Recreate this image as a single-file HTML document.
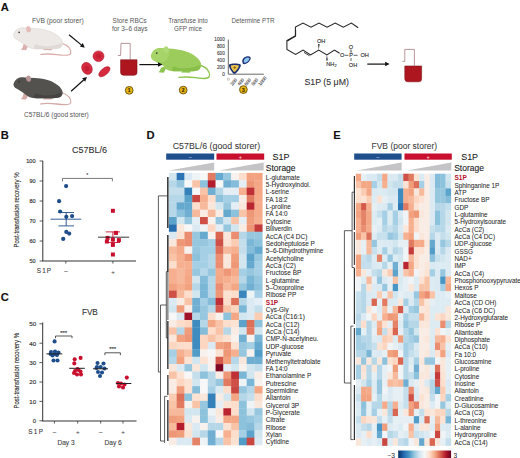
<!DOCTYPE html>
<html><head><meta charset="utf-8"><style>
html,body{margin:0;padding:0;background:#fff;}
body{width:520px;height:458px;overflow:hidden;}
svg{display:block;font-family:"Liberation Sans", sans-serif;}
</style></head><body>
<svg width="520" height="458" viewBox="0 0 520 458">
<rect width="520" height="458" fill="#fff"/>
<text x="0.8" y="10.6" font-size="11.2" fill="#111" text-anchor="start" font-weight="bold" stroke="#111" stroke-width="0.1" >A</text>
<text x="0.8" y="138.6" font-size="11.2" fill="#111" text-anchor="start" font-weight="bold" stroke="#111" stroke-width="0.1" >B</text>
<text x="0.8" y="300.6" font-size="11.2" fill="#111" text-anchor="start" font-weight="bold" stroke="#111" stroke-width="0.1" >C</text>
<text x="146.6" y="138.8" font-size="11.2" fill="#111" text-anchor="start" font-weight="bold" stroke="#111" stroke-width="0.1" >D</text>
<text x="333.2" y="138.8" font-size="11.2" fill="#111" text-anchor="start" font-weight="bold" stroke="#111" stroke-width="0.1" >E</text>
<text x="32" y="22.8" font-size="6.7" fill="#555" text-anchor="start" font-weight="normal"  >FVB (poor storer)</text>
<text x="24" y="116.9" font-size="6.55" fill="#555" text-anchor="start" font-weight="normal"  >C57BL/6 (good storer)</text>
<text x="129.6" y="22.5" font-size="6.45" fill="#555" text-anchor="middle" font-weight="normal"  >Store RBCs</text>
<text x="129.7" y="30.5" font-size="6.45" fill="#555" text-anchor="middle" font-weight="normal"  >for 3–6 days</text>
<text x="188" y="22.5" font-size="6.3" fill="#555" text-anchor="middle" font-weight="normal"  >Transfuse into</text>
<text x="188" y="30.5" font-size="6.3" fill="#555" text-anchor="middle" font-weight="normal"  >GFP mice</text>
<text x="231.4" y="23" font-size="6.27" fill="#555" text-anchor="start" font-weight="normal"  >Determine PTR</text>
<text x="304.4" y="84.9" font-size="8.8" fill="#333" text-anchor="start" font-weight="normal" stroke="#333" stroke-width="0.1" >S1P (5 μM)</text>
<g transform="translate(13.5,34.6) scale(0.94,1)"><path d="M51,8.5 C57,10.5 61.5,14 61,18.5 C60.5,21.5 54,21 46,20 C40,19.3 34,19.2 29,19.8" fill="none" stroke="#dcb0ac" stroke-width="1.3" stroke-linecap="round"/><path d="M34,10 C33.5,12.5 32.5,14.2 31.5,15.4 L40.5,15.6 C41,14.5 42,13 43,11 Z" fill="#dcb0ac"/><path d="M11,8.5 C10.5,11.5 9.5,13.8 7.8,15.2 L13.4,15.6 C14.2,14 15.2,12.2 16.5,10.5 Z" fill="#dcb0ac"/><path d="M0,0 C1,-3 3,-5.6 6.5,-6.4 C9.5,-7.1 12.5,-6.9 14.5,-6.3 C19,-6.5 24,-6 29,-5.4 C35,-4.6 40,-3 44,-0.8 C48,1.4 51,4 52,7 C53,10 51.5,12.6 49,13.3 C45,14.4 41,14.4 37,14.3 L24,14.3 C19,14.2 15,12.8 12,10 C9,8 5,5.5 2.1,4.1 C0.8,3 -0.2,1.5 0,0 Z" fill="#ece9e7" stroke="#d6d0cc" stroke-width="0.5"/><path d="M24,9.6 C32,12.6 42,12.2 50.5,8.6 C51.5,10.5 51,12.6 49,13.3 C45,14.4 41,14.4 37,14.3 L24,14.3 C21,14 21,11 24,9.6 Z" fill="#e0d9d5"/><ellipse cx="15.6" cy="-5.2" rx="2.6" ry="3.1" fill="#e5bdb8" transform="rotate(-15 15.3 -6.6)"/><circle cx="6" cy="-2.3" r="0.85" fill="#333"/></g>
<g transform="translate(13.5,84.0) scale(0.94,1)"><path d="M51,8.5 C57,10.5 61.5,14 61,18.5 C60.5,21.5 54,21 46,20 C40,19.3 34,19.2 29,19.8" fill="none" stroke="#d4aaa6" stroke-width="1.3" stroke-linecap="round"/><path d="M34,10 C33.5,12.5 32.5,14.2 31.5,15.4 L40.5,15.6 C41,14.5 42,13 43,11 Z" fill="#d4aaa6"/><path d="M11,8.5 C10.5,11.5 9.5,13.8 7.8,15.2 L13.4,15.6 C14.2,14 15.2,12.2 16.5,10.5 Z" fill="#d4aaa6"/><path d="M0,0 C1,-3 3,-5.6 6.5,-6.4 C9.5,-7.1 12.5,-6.9 14.5,-6.3 C19,-6.5 24,-6 29,-5.4 C35,-4.6 40,-3 44,-0.8 C48,1.4 51,4 52,7 C53,10 51.5,12.6 49,13.3 C45,14.4 41,14.4 37,14.3 L24,14.3 C19,14.2 15,12.8 12,10 C9,8 5,5.5 2.1,4.1 C0.8,3 -0.2,1.5 0,0 Z" fill="#54524f" stroke="none" stroke-width="0.5"/><path d="M24,9.6 C32,12.6 42,12.2 50.5,8.6 C51.5,10.5 51,12.6 49,13.3 C45,14.4 41,14.4 37,14.3 L24,14.3 C21,14 21,11 24,9.6 Z" fill="#464442"/><ellipse cx="15.6" cy="-5.2" rx="2.6" ry="3.1" fill="#b89696" transform="rotate(-15 15.3 -6.6)"/><circle cx="6" cy="-2.3" r="0.85" fill="#333"/></g>
<g transform="translate(151.0,55.6) scale(0.96,1.1)"><path d="M51,8.5 C57,10.5 61.5,14 61,18.5 C60.5,21.5 54,21 46,20 C40,19.3 34,19.2 29,19.8" fill="none" stroke="#8ec450" stroke-width="1.3" stroke-linecap="round"/><path d="M34,10 C33.5,12.5 32.5,14.2 31.5,15.4 L40.5,15.6 C41,14.5 42,13 43,11 Z" fill="#8ec450"/><path d="M11,8.5 C10.5,11.5 9.5,13.8 7.8,15.2 L13.4,15.6 C14.2,14 15.2,12.2 16.5,10.5 Z" fill="#8ec450"/><path d="M0,0 C1,-3 3,-5.6 6.5,-6.4 C9.5,-7.1 12.5,-6.9 14.5,-6.3 C19,-6.5 24,-6 29,-5.4 C35,-4.6 40,-3 44,-0.8 C48,1.4 51,4 52,7 C53,10 51.5,12.6 49,13.3 C45,14.4 41,14.4 37,14.3 L24,14.3 C19,14.2 15,12.8 12,10 C9,8 5,5.5 2.1,4.1 C0.8,3 -0.2,1.5 0,0 Z" fill="#9ccc5c" stroke="none" stroke-width="0.5"/><path d="M24,9.6 C32,12.6 42,12.2 50.5,8.6 C51.5,10.5 51,12.6 49,13.3 C45,14.4 41,14.4 37,14.3 L24,14.3 C21,14 21,11 24,9.6 Z" fill="#88bf48"/><path d="M0,0 C1,-3 3,-5.6 6.5,-6.4 C10,-7.1 15,-6.9 18,-5 C20,-2.5 19,1.5 16,4.5 C13,6.5 10,7 8,6.5 C5.5,5.5 3,4.8 2.1,4.1 C0.8,3 -0.2,1.5 0,0 Z" fill="#a6d468"/><ellipse cx="15.6" cy="-5.2" rx="2.6" ry="3.1" fill="#b0da78" transform="rotate(-15 15.3 -6.6)"/><circle cx="6" cy="-2.3" r="0.85" fill="#333"/><path d="M6.8,6.4 L13.8,9.6 L9.6,11.6 Z" fill="#fff"/></g>
<line x1="69" y1="34.7" x2="81.32504456047168" y2="44.84085944848936" stroke="#111" stroke-width="1.2"/>
<path d="M84.8,47.7 L79.89547428471636,46.57833716825352 L82.754614836227,43.1033817287252 Z" fill="#111"/>
<line x1="71.1" y1="91.3" x2="83.6541301966648" y2="80.00917850237064" stroke="#111" stroke-width="1.2"/>
<path d="M87,77 L85.15871944785012,81.68211340403825 L82.14954094547947,78.33624360070304 Z" fill="#111"/>
<line x1="139.4" y1="64.6" x2="158.0" y2="64.6" stroke="#111" stroke-width="1.2"/>
<path d="M162.5,64.6 L158.0,66.85 L158.0,62.349999999999994 Z" fill="#111"/>
<line x1="367.3" y1="64.1" x2="385.1" y2="64.1" stroke="#111" stroke-width="1.2"/>
<path d="M389.6,64.1 L385.1,66.35 L385.1,61.849999999999994 Z" fill="#111"/>
<g fill="#d62a40" stroke="#b01a2e" stroke-width="0.6"><ellipse cx="98.5" cy="56.2" rx="5.5" ry="5.3"/><ellipse cx="87" cy="68.4" rx="5" ry="6.2" transform="rotate(-28 87 68.4)"/><ellipse cx="104.4" cy="71.7" rx="6.8" ry="3.3" transform="rotate(-40 104.4 71.7)"/></g>
<g fill="#b8182a" opacity="0.6"><ellipse cx="98.5" cy="56.2" rx="2.6" ry="2.4"/><ellipse cx="86.9" cy="68.5" rx="2.4" ry="2.8"/></g>
<path d="M117.9,55.5 L120.6,55.5 L121,43.4 L130.2,43.4 L130.2,59.6" fill="none" stroke="#b08a90" stroke-width="0.9"/>
<path d="M120.6,59.8 L137,59.8 L137,72.3 Q137,75.3 134,75.3 L123.6,75.3 Q120.6,75.3 120.6,72.3 Z" fill="#ae161f" stroke="#7e1016" stroke-width="0.6"/>
<path d="M402.4,61.4 L404.8,61.4 L404.8,49.4 L414.4,49.4 L414.4,65.6" fill="none" stroke="#b08a90" stroke-width="0.9"/>
<path d="M404.8,66 L421.6,66 L421.6,78.8 Q421.6,81.8 418.6,81.8 L407.8,81.8 Q404.8,81.8 404.8,78.8 Z" fill="#ae161f" stroke="#7e1016" stroke-width="0.6"/>
<circle cx="129.2" cy="90.3" r="3.9" fill="#e6b417" stroke="#5a4400" stroke-width="0.8"/>
<text x="129.2" y="92.2" font-size="5" fill="#3a2a00" text-anchor="middle" font-weight="bold" stroke="#3a2a00" stroke-width="0.1" >1</text>
<circle cx="183.2" cy="90.1" r="3.9" fill="#e6b417" stroke="#5a4400" stroke-width="0.8"/>
<text x="183.2" y="92.0" font-size="5" fill="#3a2a00" text-anchor="middle" font-weight="bold" stroke="#3a2a00" stroke-width="0.1" >2</text>
<circle cx="243.4" cy="89.6" r="3.9" fill="#e6b417" stroke="#5a4400" stroke-width="0.8"/>
<text x="243.4" y="91.5" font-size="5" fill="#3a2a00" text-anchor="middle" font-weight="bold" stroke="#3a2a00" stroke-width="0.1" >3</text>
<line x1="228.3" y1="39.6" x2="228.3" y2="74.2" stroke="#444" stroke-width="0.8"/>
<line x1="228.3" y1="74.2" x2="263.9" y2="74.2" stroke="#444" stroke-width="0.8"/>
<text x="224.8" y="40.8" font-size="4.7" fill="#444" text-anchor="end" font-weight="normal" stroke="#444" stroke-width="0.12" >1000</text>
<text x="224.8" y="47.75" font-size="4.7" fill="#444" text-anchor="end" font-weight="normal" stroke="#444" stroke-width="0.12" >800</text>
<text x="224.8" y="54.699999999999996" font-size="4.7" fill="#444" text-anchor="end" font-weight="normal" stroke="#444" stroke-width="0.12" >600</text>
<text x="224.8" y="61.65" font-size="4.7" fill="#444" text-anchor="end" font-weight="normal" stroke="#444" stroke-width="0.12" >400</text>
<text x="224.8" y="68.6" font-size="4.7" fill="#444" text-anchor="end" font-weight="normal" stroke="#444" stroke-width="0.12" >200</text>
<text x="224.8" y="75.55" font-size="4.7" fill="#444" text-anchor="end" font-weight="normal" stroke="#444" stroke-width="0.12" >0</text>
<path d="M229.2,64.6 C231,63.2 238,63.2 240.6,64.4 C241.6,65.6 239.4,69.4 236.6,72.6 C235.2,74.4 233.6,74.4 232.4,72.6 C230,69.4 228.2,65.8 229.2,64.6 Z" fill="#1c2f74"/>
<path d="M230.9,65.6 C232.5,64.8 237,64.8 238.8,65.6 C239.2,66.6 237.6,69.2 235.6,71.2 C234.8,72.0 234,72.0 233.4,71.2 C231.5,69.2 230.4,66.6 230.9,65.6 Z" fill="#e7c54a"/>
<circle cx="234.7" cy="67.6" r="1.1" fill="#8a4a10"/>
<path d="M242.4,62.2 C241.6,59.4 244.2,56.6 247.4,56.3 C250.2,56 251.4,57.6 250.4,59.6 C249.4,61.8 246.6,64.2 244.2,64.2 C243.2,64.2 242.6,63.4 242.4,62.2 Z" fill="#1c2f74"/>
<path d="M243.8,61.8 C243.4,59.8 245.2,57.8 247.4,57.6 C249.2,57.5 249.8,58.4 249.2,59.6 C248.4,61.2 246.4,62.8 245,62.8 C244.4,62.8 243.9,62.4 243.8,61.8 Z" fill="#8cc6ee"/>
<text x="0" y="0" font-size="4.6" fill="#555" stroke="#555" stroke-width="0.12" transform="translate(232.6,86) rotate(-52)">200</text>
<text x="0" y="0" font-size="4.6" fill="#555" stroke="#555" stroke-width="0.12" transform="translate(239.6,86) rotate(-52)">400</text>
<text x="0" y="0" font-size="4.6" fill="#555" stroke="#555" stroke-width="0.12" transform="translate(246.6,86) rotate(-52)">600</text>
<text x="0" y="0" font-size="4.6" fill="#555" stroke="#555" stroke-width="0.12" transform="translate(253.6,86) rotate(-52)">800</text>
<text x="0" y="0" font-size="4.6" fill="#555" stroke="#555" stroke-width="0.12" transform="translate(260.6,86) rotate(-52)">1000</text>
<circle cx="228.4" cy="79.2" r="1.1" fill="none" stroke="#a98" stroke-width="0.6"/>
<polyline points="287.3,41 295.4,36.3 295.4,27.1 303,23.1 311,27.1 319,23.1 327.1,27.1 335.2,23.1 343.3,27.1 351.4,23.1 358.2,27.7" fill="none" stroke="#222" stroke-width="1.05"/>
<polyline points="295.6,30 295.6,35.6 286.9,40.6 286.9,49.4 295.6,54.4 303.1,50 310.6,55 318.75,50 326.9,55 334.4,50 339.6,53.2" fill="none" stroke="#222" stroke-width="1.05"/>
<line x1="304" y1="52.4" x2="309.6" y2="55.8" stroke="#222" stroke-width="0.9"/>
<path d="M318.75,50 L318.1,44 L319.6,44 Z" fill="#222"/>
<path d="M326.9,55 L326.2,60.5 L327.8,60.5 Z" fill="#222"/>
<text x="321.2" y="43.2" font-size="5.6" fill="#222" text-anchor="middle" font-weight="normal" stroke="#222" stroke-width="0.1" >OH</text>
<text x="326.3" y="65.6" font-size="5.6" fill="#222" text-anchor="start" font-weight="normal" stroke="#222" stroke-width="0.1" >NH</text>
<text x="334.6" y="67" font-size="3.8" fill="#222" text-anchor="start" font-weight="normal" stroke="#222" stroke-width="0.1" >2</text>
<text x="342.2" y="57.3" font-size="5.6" fill="#222" text-anchor="middle" font-weight="normal" stroke="#222" stroke-width="0.1" >O</text>
<line x1="344.6" y1="55.3" x2="348.4" y2="55.3" stroke="#222" stroke-width="0.7"/>
<text x="351" y="57.3" font-size="5.6" fill="#222" text-anchor="middle" font-weight="normal" stroke="#222" stroke-width="0.1" >P</text>
<line x1="353.6" y1="55.3" x2="357.6" y2="55.3" stroke="#222" stroke-width="0.7"/>
<text x="364.6" y="57.3" font-size="5.6" fill="#222" text-anchor="middle" font-weight="normal" stroke="#222" stroke-width="0.1" >OH</text>
<text x="351" y="48.6" font-size="5.6" fill="#222" text-anchor="middle" font-weight="normal" stroke="#222" stroke-width="0.1" >O</text>
<line x1="350.4" y1="49.6" x2="350.4" y2="52.6" stroke="#222" stroke-width="0.5"/><line x1="351.6" y1="49.6" x2="351.6" y2="52.6" stroke="#222" stroke-width="0.5"/>
<line x1="351" y1="58" x2="351" y2="61" stroke="#222" stroke-width="0.7"/>
<text x="353" y="66.6" font-size="5.6" fill="#222" text-anchor="middle" font-weight="normal" stroke="#222" stroke-width="0.1" >OH</text>
<line x1="42.8" y1="160.8" x2="42.8" y2="261" stroke="#333" stroke-width="1"/>
<line x1="42.3" y1="261" x2="136" y2="261" stroke="#333" stroke-width="1"/>
<line x1="39.6" y1="161.0" x2="42.8" y2="161.0" stroke="#333" stroke-width="0.8"/>
<text x="35.5" y="163.3" font-size="5.5" fill="#333" text-anchor="end" font-weight="normal" stroke="#333" stroke-width="0.15" textLength="9.3" lengthAdjust="spacingAndGlyphs">100</text>
<line x1="39.6" y1="181.0" x2="42.8" y2="181.0" stroke="#333" stroke-width="0.8"/>
<text x="35.5" y="183.3" font-size="5.5" fill="#333" text-anchor="end" font-weight="normal" stroke="#333" stroke-width="0.15" textLength="6.1000000000000005" lengthAdjust="spacingAndGlyphs">90</text>
<line x1="39.6" y1="201.0" x2="42.8" y2="201.0" stroke="#333" stroke-width="0.8"/>
<text x="35.5" y="203.3" font-size="5.5" fill="#333" text-anchor="end" font-weight="normal" stroke="#333" stroke-width="0.15" textLength="6.1000000000000005" lengthAdjust="spacingAndGlyphs">80</text>
<line x1="39.6" y1="221.0" x2="42.8" y2="221.0" stroke="#333" stroke-width="0.8"/>
<text x="35.5" y="223.3" font-size="5.5" fill="#333" text-anchor="end" font-weight="normal" stroke="#333" stroke-width="0.15" textLength="6.1000000000000005" lengthAdjust="spacingAndGlyphs">70</text>
<line x1="39.6" y1="241.0" x2="42.8" y2="241.0" stroke="#333" stroke-width="0.8"/>
<text x="35.5" y="243.3" font-size="5.5" fill="#333" text-anchor="end" font-weight="normal" stroke="#333" stroke-width="0.15" textLength="6.1000000000000005" lengthAdjust="spacingAndGlyphs">60</text>
<line x1="39.6" y1="261.0" x2="42.8" y2="261.0" stroke="#333" stroke-width="0.8"/>
<text x="35.5" y="263.3" font-size="5.5" fill="#333" text-anchor="end" font-weight="normal" stroke="#333" stroke-width="0.15" textLength="6.1000000000000005" lengthAdjust="spacingAndGlyphs">50</text>
<text x="72.1" y="152.9" font-size="9.0" fill="#333" text-anchor="start" font-weight="normal" stroke="#333" stroke-width="0.1" >C57BL/6</text>
<text x="0" y="0" font-size="7.5" fill="#2a2a2a" transform="translate(19.1,209.9) rotate(-90)" text-anchor="middle" stroke="#2a2a2a" stroke-width="0.12" textLength="75" lengthAdjust="spacingAndGlyphs">Post-transfusion recovery %</text>
<line x1="65.8" y1="261" x2="65.8" y2="263.6" stroke="#333" stroke-width="0.8"/>
<line x1="112.9" y1="261" x2="112.9" y2="263.6" stroke="#333" stroke-width="0.8"/>
<text x="36.8" y="273.2" font-size="6.4" fill="#3a3a3a" text-anchor="start" font-weight="normal" stroke="#3a3a3a" stroke-width="0.1" letter-spacing="1.1">S1P</text>
<text x="66" y="273" font-size="6.2" fill="#444" text-anchor="middle" font-weight="normal" stroke="#444" stroke-width="0.1" >–</text>
<text x="113" y="273.5" font-size="6.2" fill="#444" text-anchor="middle" font-weight="normal" stroke="#444" stroke-width="0.1" >+</text>
<path d="M62.5,181.3 L62.5,178.4 L112.4,178.4 L112.4,181.3" fill="none" stroke="#555" stroke-width="0.8"/>
<text x="87.2" y="176.6" font-size="5" fill="#444" text-anchor="middle" font-weight="normal" stroke="#444" stroke-width="0.1" >*</text>
<circle cx="66.1" cy="186.1" r="2.1" fill="#1f4e8c"/>
<circle cx="59.1" cy="201.2" r="2.1" fill="#1f4e8c"/>
<circle cx="60.1" cy="211.5" r="2.1" fill="#1f4e8c"/>
<circle cx="66.3" cy="216.8" r="2.1" fill="#1f4e8c"/>
<circle cx="72.1" cy="216.1" r="2.1" fill="#1f4e8c"/>
<circle cx="66.3" cy="231.9" r="2.1" fill="#1f4e8c"/>
<circle cx="69.2" cy="233.6" r="2.1" fill="#1f4e8c"/>
<circle cx="63.2" cy="238.9" r="2.1" fill="#1f4e8c"/>
<rect x="110.9" y="208.8" width="4" height="4" fill="#c8102e"/>
<rect x="114" y="230.9" width="4" height="4" fill="#c8102e"/>
<rect x="105.6" y="235.9" width="4" height="4" fill="#c8102e"/>
<rect x="110.9" y="237.6" width="4" height="4" fill="#c8102e"/>
<rect x="116.9" y="238.1" width="4" height="4" fill="#c8102e"/>
<rect x="104.9" y="239.5" width="4" height="4" fill="#c8102e"/>
<rect x="110.9" y="242.9" width="4" height="4" fill="#c8102e"/>
<rect x="110.9" y="252.5" width="4" height="4" fill="#c8102e"/>
<g stroke="#1f4e8c" stroke-width="0.9"><line x1="50.5" y1="219.2" x2="81.2" y2="219.2"/><line x1="66.2" y1="212.5" x2="66.2" y2="225.9"/><line x1="58.4" y1="212.5" x2="74" y2="212.5"/><line x1="58.4" y1="225.9" x2="74" y2="225.9"/></g>
<g stroke="#222" stroke-width="0.9"><line x1="98" y1="237.2" x2="129.2" y2="237.2"/></g>
<g stroke="#c8102e" stroke-width="0.9"><line x1="112.9" y1="231.9" x2="112.9" y2="242.5"/><line x1="105.7" y1="231.9" x2="120" y2="231.9"/><line x1="105.7" y1="242.5" x2="120" y2="242.5"/></g>
<line x1="42.7" y1="322.5" x2="42.7" y2="421" stroke="#333" stroke-width="1"/>
<line x1="42.2" y1="421" x2="136.5" y2="421" stroke="#333" stroke-width="1"/>
<line x1="39.4" y1="323.8" x2="42.7" y2="323.8" stroke="#333" stroke-width="0.8"/>
<text x="36.1" y="326.2" font-size="5.5" fill="#333" text-anchor="end" font-weight="normal" stroke="#333" stroke-width="0.15" textLength="6.9" lengthAdjust="spacingAndGlyphs">50</text>
<line x1="39.4" y1="343.20000000000005" x2="42.7" y2="343.20000000000005" stroke="#333" stroke-width="0.8"/>
<text x="36.1" y="345.6" font-size="5.5" fill="#333" text-anchor="end" font-weight="normal" stroke="#333" stroke-width="0.15" textLength="6.9" lengthAdjust="spacingAndGlyphs">40</text>
<line x1="39.4" y1="362.6" x2="42.7" y2="362.6" stroke="#333" stroke-width="0.8"/>
<text x="36.1" y="365.0" font-size="5.5" fill="#333" text-anchor="end" font-weight="normal" stroke="#333" stroke-width="0.15" textLength="6.9" lengthAdjust="spacingAndGlyphs">30</text>
<line x1="39.4" y1="382.0" x2="42.7" y2="382.0" stroke="#333" stroke-width="0.8"/>
<text x="36.1" y="384.4" font-size="5.5" fill="#333" text-anchor="end" font-weight="normal" stroke="#333" stroke-width="0.15" textLength="6.9" lengthAdjust="spacingAndGlyphs">20</text>
<line x1="39.4" y1="401.40000000000003" x2="42.7" y2="401.40000000000003" stroke="#333" stroke-width="0.8"/>
<text x="36.1" y="403.8" font-size="5.5" fill="#333" text-anchor="end" font-weight="normal" stroke="#333" stroke-width="0.15" textLength="6.9" lengthAdjust="spacingAndGlyphs">10</text>
<line x1="39.4" y1="420.8" x2="42.7" y2="420.8" stroke="#333" stroke-width="0.8"/>
<text x="36.1" y="423.2" font-size="5.5" fill="#333" text-anchor="end" font-weight="normal" stroke="#333" stroke-width="0.15" textLength="3.3000000000000003" lengthAdjust="spacingAndGlyphs">0</text>
<text x="81.9" y="314.6" font-size="8.2" fill="#333" text-anchor="start" font-weight="normal" stroke="#333" stroke-width="0.1" >FVB</text>
<text x="0" y="0" font-size="7.5" fill="#2a2a2a" transform="translate(19.1,370.7) rotate(-90)" text-anchor="middle" stroke="#2a2a2a" stroke-width="0.12" textLength="75.8" lengthAdjust="spacingAndGlyphs">Post-transfusion recovery %</text>
<line x1="54.4" y1="421" x2="54.4" y2="423.6" stroke="#333" stroke-width="0.8"/>
<line x1="77.7" y1="421" x2="77.7" y2="423.6" stroke="#333" stroke-width="0.8"/>
<line x1="100.7" y1="421" x2="100.7" y2="423.6" stroke="#333" stroke-width="0.8"/>
<line x1="123" y1="421" x2="123" y2="423.6" stroke="#333" stroke-width="0.8"/>
<text x="28.3" y="433.6" font-size="6.4" fill="#3a3a3a" text-anchor="start" font-weight="normal" stroke="#3a3a3a" stroke-width="0.1" letter-spacing="1.3">S1P</text>
<text x="54.4" y="433.6" font-size="6.2" fill="#444" text-anchor="middle" font-weight="normal" stroke="#444" stroke-width="0.1" >–</text>
<text x="77.7" y="433.6" font-size="6.2" fill="#444" text-anchor="middle" font-weight="normal" stroke="#444" stroke-width="0.1" >+</text>
<text x="100.7" y="433.6" font-size="6.2" fill="#444" text-anchor="middle" font-weight="normal" stroke="#444" stroke-width="0.1" >–</text>
<text x="123" y="433.6" font-size="6.2" fill="#444" text-anchor="middle" font-weight="normal" stroke="#444" stroke-width="0.1" >+</text>
<text x="66" y="445.2" font-size="6.6" fill="#444" text-anchor="middle" font-weight="normal" stroke="#444" stroke-width="0.1" >Day 3</text>
<text x="113.1" y="445.2" font-size="6.6" fill="#444" text-anchor="middle" font-weight="normal" stroke="#444" stroke-width="0.1" >Day 6</text>
<path d="M55.5,338.2 L55.5,336 L72,336 L72,338.2" fill="none" stroke="#444" stroke-width="0.9"/>
<path d="M104.9,355.2 L104.9,352.8 L120.4,352.8 L120.4,355.2" fill="none" stroke="#444" stroke-width="0.9"/>
<text x="63.7" y="334.6" font-size="6" fill="#333" text-anchor="middle" font-weight="normal" stroke="#333" stroke-width="0.1" >***</text>
<text x="112.7" y="351.4" font-size="6" fill="#333" text-anchor="middle" font-weight="normal" stroke="#333" stroke-width="0.1" >***</text>
<circle cx="54.6" cy="341.4" r="2.05" fill="#1f4e8c"/>
<circle cx="51" cy="352" r="2.05" fill="#1f4e8c"/>
<circle cx="55" cy="351.5" r="2.05" fill="#1f4e8c"/>
<circle cx="58.5" cy="352.5" r="2.05" fill="#1f4e8c"/>
<circle cx="52.5" cy="355.5" r="2.05" fill="#1f4e8c"/>
<circle cx="57" cy="355" r="2.05" fill="#1f4e8c"/>
<circle cx="54.6" cy="354" r="2.05" fill="#1f4e8c"/>
<circle cx="53.5" cy="360.5" r="2.05" fill="#1f4e8c"/>
<circle cx="57.5" cy="360.5" r="2.05" fill="#1f4e8c"/>
<circle cx="50.5" cy="354" r="2.05" fill="#1f4e8c"/>
<circle cx="74.7" cy="359.3" r="2.05" fill="#c8102e"/>
<circle cx="80.6" cy="357.9" r="2.05" fill="#c8102e"/>
<circle cx="74.3" cy="363.4" r="2.05" fill="#c8102e"/>
<circle cx="77.5" cy="369" r="2.05" fill="#c8102e"/>
<circle cx="75" cy="371" r="2.05" fill="#c8102e"/>
<circle cx="80.5" cy="371.5" r="2.05" fill="#c8102e"/>
<circle cx="77" cy="374.5" r="2.05" fill="#c8102e"/>
<circle cx="81" cy="374.5" r="2.05" fill="#c8102e"/>
<circle cx="78.5" cy="370" r="2.05" fill="#c8102e"/>
<circle cx="74" cy="373" r="2.05" fill="#c8102e"/>
<circle cx="97.5" cy="363" r="2.05" fill="#1f4e8c"/>
<circle cx="103.5" cy="363.5" r="2.05" fill="#1f4e8c"/>
<circle cx="96.5" cy="368" r="2.05" fill="#1f4e8c"/>
<circle cx="100.7" cy="367" r="2.05" fill="#1f4e8c"/>
<circle cx="104.5" cy="368.5" r="2.05" fill="#1f4e8c"/>
<circle cx="98" cy="372" r="2.05" fill="#1f4e8c"/>
<circle cx="102" cy="372.5" r="2.05" fill="#1f4e8c"/>
<circle cx="100" cy="376" r="2.05" fill="#1f4e8c"/>
<circle cx="97" cy="367" r="2.05" fill="#1f4e8c"/>
<circle cx="126.8" cy="377.6" r="2.05" fill="#c8102e"/>
<circle cx="118" cy="383" r="2.05" fill="#c8102e"/>
<circle cx="121" cy="383.5" r="2.05" fill="#c8102e"/>
<circle cx="124.5" cy="384.5" r="2.05" fill="#c8102e"/>
<circle cx="119" cy="386.5" r="2.05" fill="#c8102e"/>
<circle cx="123" cy="387.5" r="2.05" fill="#c8102e"/>
<line x1="46.4" y1="353.9" x2="62.3" y2="353.9" stroke="#222" stroke-width="1"/>
<line x1="69.2" y1="368.3" x2="84.8" y2="368.3" stroke="#222" stroke-width="1"/>
<line x1="93" y1="368.8" x2="108" y2="368.8" stroke="#222" stroke-width="1"/>
<line x1="115.8" y1="383.5" x2="131.3" y2="383.5" stroke="#222" stroke-width="1"/>
<rect x="168.90" y="172.90" width="8.08" height="7.65" fill="#d2e6f0"/>
<rect x="176.68" y="172.90" width="8.08" height="7.65" fill="#2c74b3"/>
<rect x="184.46" y="172.90" width="8.08" height="7.65" fill="#dbeaf2"/>
<rect x="192.24" y="172.90" width="8.08" height="7.65" fill="#eef3f5"/>
<rect x="200.02" y="172.90" width="8.08" height="7.65" fill="#f7f7f7"/>
<rect x="207.80" y="172.90" width="8.08" height="7.65" fill="#e17a61"/>
<rect x="215.58" y="172.90" width="8.08" height="7.65" fill="#66a9cf"/>
<rect x="223.36" y="172.90" width="8.08" height="7.65" fill="#96c7df"/>
<rect x="231.14" y="172.90" width="8.08" height="7.65" fill="#f8f2ee"/>
<rect x="238.92" y="172.90" width="8.08" height="7.65" fill="#fdddcb"/>
<rect x="246.70" y="172.90" width="8.08" height="7.65" fill="#f3a280"/>
<rect x="254.48" y="172.90" width="8.08" height="7.65" fill="#f3a280"/>
<rect x="168.90" y="180.25" width="8.08" height="7.65" fill="#b5d7e8"/>
<rect x="176.68" y="180.25" width="8.08" height="7.65" fill="#96c7df"/>
<rect x="184.46" y="180.25" width="8.08" height="7.65" fill="#f7f7f7"/>
<rect x="192.24" y="180.25" width="8.08" height="7.65" fill="#f9c3a8"/>
<rect x="200.02" y="180.25" width="8.08" height="7.65" fill="#8dc2dc"/>
<rect x="207.80" y="180.25" width="8.08" height="7.65" fill="#b41b2d"/>
<rect x="215.58" y="180.25" width="8.08" height="7.65" fill="#f7f7f7"/>
<rect x="223.36" y="180.25" width="8.08" height="7.65" fill="#70afd2"/>
<rect x="231.14" y="180.25" width="8.08" height="7.65" fill="#84bcd9"/>
<rect x="238.92" y="180.25" width="8.08" height="7.65" fill="#e5eef4"/>
<rect x="246.70" y="180.25" width="8.08" height="7.65" fill="#ee9777"/>
<rect x="254.48" y="180.25" width="8.08" height="7.65" fill="#f4a785"/>
<rect x="168.90" y="187.61" width="8.08" height="7.65" fill="#c4deec"/>
<rect x="176.68" y="187.61" width="8.08" height="7.65" fill="#c4deec"/>
<rect x="184.46" y="187.61" width="8.08" height="7.65" fill="#3480b9"/>
<rect x="192.24" y="187.61" width="8.08" height="7.65" fill="#f7f7f7"/>
<rect x="200.02" y="187.61" width="8.08" height="7.65" fill="#f9c3a8"/>
<rect x="207.80" y="187.61" width="8.08" height="7.65" fill="#70afd2"/>
<rect x="215.58" y="187.61" width="8.08" height="7.65" fill="#b5d7e8"/>
<rect x="223.36" y="187.61" width="8.08" height="7.65" fill="#e5eef4"/>
<rect x="231.14" y="187.61" width="8.08" height="7.65" fill="#e5eef4"/>
<rect x="238.92" y="187.61" width="8.08" height="7.65" fill="#f6b090"/>
<rect x="246.70" y="187.61" width="8.08" height="7.65" fill="#be3036"/>
<rect x="254.48" y="187.61" width="8.08" height="7.65" fill="#f4a785"/>
<rect x="168.90" y="194.96" width="8.08" height="7.65" fill="#b5d7e8"/>
<rect x="176.68" y="194.96" width="8.08" height="7.65" fill="#b5d7e8"/>
<rect x="184.46" y="194.96" width="8.08" height="7.65" fill="#5ca3cc"/>
<rect x="192.24" y="194.96" width="8.08" height="7.65" fill="#c94641"/>
<rect x="200.02" y="194.96" width="8.08" height="7.65" fill="#f6b090"/>
<rect x="207.80" y="194.96" width="8.08" height="7.65" fill="#fdddcb"/>
<rect x="215.58" y="194.96" width="8.08" height="7.65" fill="#8dc2dc"/>
<rect x="223.36" y="194.96" width="8.08" height="7.65" fill="#a5cfe4"/>
<rect x="231.14" y="194.96" width="8.08" height="7.65" fill="#a5cfe4"/>
<rect x="238.92" y="194.96" width="8.08" height="7.65" fill="#f9ece5"/>
<rect x="246.70" y="194.96" width="8.08" height="7.65" fill="#e17a61"/>
<rect x="254.48" y="194.96" width="8.08" height="7.65" fill="#f5ab8a"/>
<rect x="168.90" y="202.32" width="8.08" height="7.65" fill="#b5d7e8"/>
<rect x="176.68" y="202.32" width="8.08" height="7.65" fill="#66a9cf"/>
<rect x="184.46" y="202.32" width="8.08" height="7.65" fill="#66a9cf"/>
<rect x="192.24" y="202.32" width="8.08" height="7.65" fill="#fdddcb"/>
<rect x="200.02" y="202.32" width="8.08" height="7.65" fill="#f7b99c"/>
<rect x="207.80" y="202.32" width="8.08" height="7.65" fill="#fae7dc"/>
<rect x="215.58" y="202.32" width="8.08" height="7.65" fill="#d2e6f0"/>
<rect x="223.36" y="202.32" width="8.08" height="7.65" fill="#96c7df"/>
<rect x="231.14" y="202.32" width="8.08" height="7.65" fill="#e5eef4"/>
<rect x="238.92" y="202.32" width="8.08" height="7.65" fill="#fae7dc"/>
<rect x="246.70" y="202.32" width="8.08" height="7.65" fill="#b92631"/>
<rect x="254.48" y="202.32" width="8.08" height="7.65" fill="#f5ab8a"/>
<rect x="168.90" y="209.67" width="8.08" height="7.65" fill="#b5d7e8"/>
<rect x="176.68" y="209.67" width="8.08" height="7.65" fill="#8dc2dc"/>
<rect x="184.46" y="209.67" width="8.08" height="7.65" fill="#70afd2"/>
<rect x="192.24" y="209.67" width="8.08" height="7.65" fill="#f7b99c"/>
<rect x="200.02" y="209.67" width="8.08" height="7.65" fill="#f9ece5"/>
<rect x="207.80" y="209.67" width="8.08" height="7.65" fill="#f7b99c"/>
<rect x="215.58" y="209.67" width="8.08" height="7.65" fill="#f9ece5"/>
<rect x="223.36" y="209.67" width="8.08" height="7.65" fill="#66a9cf"/>
<rect x="231.14" y="209.67" width="8.08" height="7.65" fill="#8dc2dc"/>
<rect x="238.92" y="209.67" width="8.08" height="7.65" fill="#f9c3a8"/>
<rect x="246.70" y="209.67" width="8.08" height="7.65" fill="#ee9777"/>
<rect x="254.48" y="209.67" width="8.08" height="7.65" fill="#f5ab8a"/>
<rect x="168.90" y="217.02" width="8.08" height="7.65" fill="#5ca3cc"/>
<rect x="176.68" y="217.02" width="8.08" height="7.65" fill="#d2e6f0"/>
<rect x="184.46" y="217.02" width="8.08" height="7.65" fill="#96c7df"/>
<rect x="192.24" y="217.02" width="8.08" height="7.65" fill="#e5eef4"/>
<rect x="200.02" y="217.02" width="8.08" height="7.65" fill="#ce5046"/>
<rect x="207.80" y="217.02" width="8.08" height="7.65" fill="#f8f2ee"/>
<rect x="215.58" y="217.02" width="8.08" height="7.65" fill="#96c7df"/>
<rect x="223.36" y="217.02" width="8.08" height="7.65" fill="#d2e6f0"/>
<rect x="231.14" y="217.02" width="8.08" height="7.65" fill="#f9c3a8"/>
<rect x="238.92" y="217.02" width="8.08" height="7.65" fill="#e5eef4"/>
<rect x="246.70" y="217.02" width="8.08" height="7.65" fill="#f09d7c"/>
<rect x="254.48" y="217.02" width="8.08" height="7.65" fill="#f6b090"/>
<rect x="168.90" y="224.38" width="8.08" height="7.65" fill="#286fb0"/>
<rect x="176.68" y="224.38" width="8.08" height="7.65" fill="#fae7dc"/>
<rect x="184.46" y="224.38" width="8.08" height="7.65" fill="#f7f7f7"/>
<rect x="192.24" y="224.38" width="8.08" height="7.65" fill="#dbeaf2"/>
<rect x="200.02" y="224.38" width="8.08" height="7.65" fill="#eef3f5"/>
<rect x="207.80" y="224.38" width="8.08" height="7.65" fill="#fcd6c0"/>
<rect x="215.58" y="224.38" width="8.08" height="7.65" fill="#e5eef4"/>
<rect x="223.36" y="224.38" width="8.08" height="7.65" fill="#96c7df"/>
<rect x="231.14" y="224.38" width="8.08" height="7.65" fill="#d2e6f0"/>
<rect x="238.92" y="224.38" width="8.08" height="7.65" fill="#f9ece5"/>
<rect x="246.70" y="224.38" width="8.08" height="7.65" fill="#ee9777"/>
<rect x="254.48" y="224.38" width="8.08" height="7.65" fill="#c33b3b"/>
<rect x="168.90" y="231.73" width="8.08" height="7.65" fill="#dbeaf2"/>
<rect x="176.68" y="231.73" width="8.08" height="7.65" fill="#fce2d3"/>
<rect x="184.46" y="231.73" width="8.08" height="7.65" fill="#ea8d70"/>
<rect x="192.24" y="231.73" width="8.08" height="7.65" fill="#96c7df"/>
<rect x="200.02" y="231.73" width="8.08" height="7.65" fill="#66a9cf"/>
<rect x="207.80" y="231.73" width="8.08" height="7.65" fill="#f8f2ee"/>
<rect x="215.58" y="231.73" width="8.08" height="7.65" fill="#d96651"/>
<rect x="223.36" y="231.73" width="8.08" height="7.65" fill="#fae7dc"/>
<rect x="231.14" y="231.73" width="8.08" height="7.65" fill="#ea8d70"/>
<rect x="238.92" y="231.73" width="8.08" height="7.65" fill="#b5d7e8"/>
<rect x="246.70" y="231.73" width="8.08" height="7.65" fill="#96c7df"/>
<rect x="254.48" y="231.73" width="8.08" height="7.65" fill="#96c7df"/>
<rect x="168.90" y="239.09" width="8.08" height="7.65" fill="#fae7dc"/>
<rect x="176.68" y="239.09" width="8.08" height="7.65" fill="#ee9777"/>
<rect x="184.46" y="239.09" width="8.08" height="7.65" fill="#ea8d70"/>
<rect x="192.24" y="239.09" width="8.08" height="7.65" fill="#96c7df"/>
<rect x="200.02" y="239.09" width="8.08" height="7.65" fill="#96c7df"/>
<rect x="207.80" y="239.09" width="8.08" height="7.65" fill="#a5cfe4"/>
<rect x="215.58" y="239.09" width="8.08" height="7.65" fill="#ce5046"/>
<rect x="223.36" y="239.09" width="8.08" height="7.65" fill="#fce2d3"/>
<rect x="231.14" y="239.09" width="8.08" height="7.65" fill="#fbccb4"/>
<rect x="238.92" y="239.09" width="8.08" height="7.65" fill="#c4deec"/>
<rect x="246.70" y="239.09" width="8.08" height="7.65" fill="#7ab6d6"/>
<rect x="254.48" y="239.09" width="8.08" height="7.65" fill="#8dc2dc"/>
<rect x="168.90" y="246.44" width="8.08" height="7.65" fill="#f7b99c"/>
<rect x="176.68" y="246.44" width="8.08" height="7.65" fill="#f5ab8a"/>
<rect x="184.46" y="246.44" width="8.08" height="7.65" fill="#f8f2ee"/>
<rect x="192.24" y="246.44" width="8.08" height="7.65" fill="#96c7df"/>
<rect x="200.02" y="246.44" width="8.08" height="7.65" fill="#a5cfe4"/>
<rect x="207.80" y="246.44" width="8.08" height="7.65" fill="#a5cfe4"/>
<rect x="215.58" y="246.44" width="8.08" height="7.65" fill="#dd7059"/>
<rect x="223.36" y="246.44" width="8.08" height="7.65" fill="#f7b99c"/>
<rect x="231.14" y="246.44" width="8.08" height="7.65" fill="#f6b090"/>
<rect x="238.92" y="246.44" width="8.08" height="7.65" fill="#c4deec"/>
<rect x="246.70" y="246.44" width="8.08" height="7.65" fill="#84bcd9"/>
<rect x="254.48" y="246.44" width="8.08" height="7.65" fill="#66a9cf"/>
<rect x="168.90" y="253.79" width="8.08" height="7.65" fill="#f9c3a8"/>
<rect x="176.68" y="253.79" width="8.08" height="7.65" fill="#f6b090"/>
<rect x="184.46" y="253.79" width="8.08" height="7.65" fill="#ee9777"/>
<rect x="192.24" y="253.79" width="8.08" height="7.65" fill="#8dc2dc"/>
<rect x="200.02" y="253.79" width="8.08" height="7.65" fill="#a5cfe4"/>
<rect x="207.80" y="253.79" width="8.08" height="7.65" fill="#b5d7e8"/>
<rect x="215.58" y="253.79" width="8.08" height="7.65" fill="#ea8d70"/>
<rect x="223.36" y="253.79" width="8.08" height="7.65" fill="#fae7dc"/>
<rect x="231.14" y="253.79" width="8.08" height="7.65" fill="#f09d7c"/>
<rect x="238.92" y="253.79" width="8.08" height="7.65" fill="#d2e6f0"/>
<rect x="246.70" y="253.79" width="8.08" height="7.65" fill="#5ca3cc"/>
<rect x="254.48" y="253.79" width="8.08" height="7.65" fill="#96c7df"/>
<rect x="168.90" y="261.15" width="8.08" height="7.65" fill="#fdddcb"/>
<rect x="176.68" y="261.15" width="8.08" height="7.65" fill="#f6b090"/>
<rect x="184.46" y="261.15" width="8.08" height="7.65" fill="#f6b090"/>
<rect x="192.24" y="261.15" width="8.08" height="7.65" fill="#a5cfe4"/>
<rect x="200.02" y="261.15" width="8.08" height="7.65" fill="#a5cfe4"/>
<rect x="207.80" y="261.15" width="8.08" height="7.65" fill="#b5d7e8"/>
<rect x="215.58" y="261.15" width="8.08" height="7.65" fill="#ea8d70"/>
<rect x="223.36" y="261.15" width="8.08" height="7.65" fill="#fae7dc"/>
<rect x="231.14" y="261.15" width="8.08" height="7.65" fill="#ee9777"/>
<rect x="238.92" y="261.15" width="8.08" height="7.65" fill="#d2e6f0"/>
<rect x="246.70" y="261.15" width="8.08" height="7.65" fill="#66a9cf"/>
<rect x="254.48" y="261.15" width="8.08" height="7.65" fill="#a5cfe4"/>
<rect x="168.90" y="268.50" width="8.08" height="7.65" fill="#f6b090"/>
<rect x="176.68" y="268.50" width="8.08" height="7.65" fill="#f7b99c"/>
<rect x="184.46" y="268.50" width="8.08" height="7.65" fill="#f5ab8a"/>
<rect x="192.24" y="268.50" width="8.08" height="7.65" fill="#96c7df"/>
<rect x="200.02" y="268.50" width="8.08" height="7.65" fill="#b5d7e8"/>
<rect x="207.80" y="268.50" width="8.08" height="7.65" fill="#96c7df"/>
<rect x="215.58" y="268.50" width="8.08" height="7.65" fill="#f5ab8a"/>
<rect x="223.36" y="268.50" width="8.08" height="7.65" fill="#ee9777"/>
<rect x="231.14" y="268.50" width="8.08" height="7.65" fill="#f5ab8a"/>
<rect x="238.92" y="268.50" width="8.08" height="7.65" fill="#a5cfe4"/>
<rect x="246.70" y="268.50" width="8.08" height="7.65" fill="#96c7df"/>
<rect x="254.48" y="268.50" width="8.08" height="7.65" fill="#a5cfe4"/>
<rect x="168.90" y="275.86" width="8.08" height="7.65" fill="#f6b090"/>
<rect x="176.68" y="275.86" width="8.08" height="7.65" fill="#f7b99c"/>
<rect x="184.46" y="275.86" width="8.08" height="7.65" fill="#f4a785"/>
<rect x="192.24" y="275.86" width="8.08" height="7.65" fill="#d2e6f0"/>
<rect x="200.02" y="275.86" width="8.08" height="7.65" fill="#84bcd9"/>
<rect x="207.80" y="275.86" width="8.08" height="7.65" fill="#b5d7e8"/>
<rect x="215.58" y="275.86" width="8.08" height="7.65" fill="#f4a785"/>
<rect x="223.36" y="275.86" width="8.08" height="7.65" fill="#f6b090"/>
<rect x="231.14" y="275.86" width="8.08" height="7.65" fill="#f7b99c"/>
<rect x="238.92" y="275.86" width="8.08" height="7.65" fill="#b5d7e8"/>
<rect x="246.70" y="275.86" width="8.08" height="7.65" fill="#7ab6d6"/>
<rect x="254.48" y="275.86" width="8.08" height="7.65" fill="#96c7df"/>
<rect x="168.90" y="283.21" width="8.08" height="7.65" fill="#f3a280"/>
<rect x="176.68" y="283.21" width="8.08" height="7.65" fill="#f6b090"/>
<rect x="184.46" y="283.21" width="8.08" height="7.65" fill="#f3a280"/>
<rect x="192.24" y="283.21" width="8.08" height="7.65" fill="#b5d7e8"/>
<rect x="200.02" y="283.21" width="8.08" height="7.65" fill="#7ab6d6"/>
<rect x="207.80" y="283.21" width="8.08" height="7.65" fill="#b5d7e8"/>
<rect x="215.58" y="283.21" width="8.08" height="7.65" fill="#ea8d70"/>
<rect x="223.36" y="283.21" width="8.08" height="7.65" fill="#f7b99c"/>
<rect x="231.14" y="283.21" width="8.08" height="7.65" fill="#f4a785"/>
<rect x="238.92" y="283.21" width="8.08" height="7.65" fill="#96c7df"/>
<rect x="246.70" y="283.21" width="8.08" height="7.65" fill="#70afd2"/>
<rect x="254.48" y="283.21" width="8.08" height="7.65" fill="#8dc2dc"/>
<rect x="168.90" y="290.56" width="8.08" height="7.65" fill="#ce5046"/>
<rect x="176.68" y="290.56" width="8.08" height="7.65" fill="#f7b99c"/>
<rect x="184.46" y="290.56" width="8.08" height="7.65" fill="#fdddcb"/>
<rect x="192.24" y="290.56" width="8.08" height="7.65" fill="#d2e6f0"/>
<rect x="200.02" y="290.56" width="8.08" height="7.65" fill="#7ab6d6"/>
<rect x="207.80" y="290.56" width="8.08" height="7.65" fill="#b5d7e8"/>
<rect x="215.58" y="290.56" width="8.08" height="7.65" fill="#ee9777"/>
<rect x="223.36" y="290.56" width="8.08" height="7.65" fill="#fce2d3"/>
<rect x="231.14" y="290.56" width="8.08" height="7.65" fill="#fdddcb"/>
<rect x="238.92" y="290.56" width="8.08" height="7.65" fill="#3985bc"/>
<rect x="246.70" y="290.56" width="8.08" height="7.65" fill="#eef3f5"/>
<rect x="254.48" y="290.56" width="8.08" height="7.65" fill="#a5cfe4"/>
<rect x="168.90" y="297.92" width="8.08" height="7.65" fill="#dbeaf2"/>
<rect x="176.68" y="297.92" width="8.08" height="7.65" fill="#f9ece5"/>
<rect x="184.46" y="297.92" width="8.08" height="7.65" fill="#f9c3a8"/>
<rect x="192.24" y="297.92" width="8.08" height="7.65" fill="#70afd2"/>
<rect x="200.02" y="297.92" width="8.08" height="7.65" fill="#a5cfe4"/>
<rect x="207.80" y="297.92" width="8.08" height="7.65" fill="#84bcd9"/>
<rect x="215.58" y="297.92" width="8.08" height="7.65" fill="#be3036"/>
<rect x="223.36" y="297.92" width="8.08" height="7.65" fill="#fdddcb"/>
<rect x="231.14" y="297.92" width="8.08" height="7.65" fill="#dd7059"/>
<rect x="238.92" y="297.92" width="8.08" height="7.65" fill="#b5d7e8"/>
<rect x="246.70" y="297.92" width="8.08" height="7.65" fill="#dbeaf2"/>
<rect x="254.48" y="297.92" width="8.08" height="7.65" fill="#e5eef4"/>
<rect x="168.90" y="305.27" width="8.08" height="7.65" fill="#d2e6f0"/>
<rect x="176.68" y="305.27" width="8.08" height="7.65" fill="#f09d7c"/>
<rect x="184.46" y="305.27" width="8.08" height="7.65" fill="#f9ece5"/>
<rect x="192.24" y="305.27" width="8.08" height="7.65" fill="#70afd2"/>
<rect x="200.02" y="305.27" width="8.08" height="7.65" fill="#96c7df"/>
<rect x="207.80" y="305.27" width="8.08" height="7.65" fill="#b5d7e8"/>
<rect x="215.58" y="305.27" width="8.08" height="7.65" fill="#d45b4b"/>
<rect x="223.36" y="305.27" width="8.08" height="7.65" fill="#f9c3a8"/>
<rect x="231.14" y="305.27" width="8.08" height="7.65" fill="#fcd6c0"/>
<rect x="238.92" y="305.27" width="8.08" height="7.65" fill="#7ab6d6"/>
<rect x="246.70" y="305.27" width="8.08" height="7.65" fill="#dbeaf2"/>
<rect x="254.48" y="305.27" width="8.08" height="7.65" fill="#c4deec"/>
<rect x="168.90" y="312.63" width="8.08" height="7.65" fill="#f7f7f7"/>
<rect x="176.68" y="312.63" width="8.08" height="7.65" fill="#dbeaf2"/>
<rect x="184.46" y="312.63" width="8.08" height="7.65" fill="#a01228"/>
<rect x="192.24" y="312.63" width="8.08" height="7.65" fill="#b5d7e8"/>
<rect x="200.02" y="312.63" width="8.08" height="7.65" fill="#96c7df"/>
<rect x="207.80" y="312.63" width="8.08" height="7.65" fill="#fdddcb"/>
<rect x="215.58" y="312.63" width="8.08" height="7.65" fill="#f8f2ee"/>
<rect x="223.36" y="312.63" width="8.08" height="7.65" fill="#8dc2dc"/>
<rect x="231.14" y="312.63" width="8.08" height="7.65" fill="#f4a785"/>
<rect x="238.92" y="312.63" width="8.08" height="7.65" fill="#d2e6f0"/>
<rect x="246.70" y="312.63" width="8.08" height="7.65" fill="#dbeaf2"/>
<rect x="254.48" y="312.63" width="8.08" height="7.65" fill="#fbccb4"/>
<rect x="168.90" y="319.98" width="8.08" height="7.65" fill="#f9ece5"/>
<rect x="176.68" y="319.98" width="8.08" height="7.65" fill="#fdddcb"/>
<rect x="184.46" y="319.98" width="8.08" height="7.65" fill="#fcd6c0"/>
<rect x="192.24" y="319.98" width="8.08" height="7.65" fill="#3d8bbf"/>
<rect x="200.02" y="319.98" width="8.08" height="7.65" fill="#b5d7e8"/>
<rect x="207.80" y="319.98" width="8.08" height="7.65" fill="#f4a785"/>
<rect x="215.58" y="319.98" width="8.08" height="7.65" fill="#f9c3a8"/>
<rect x="223.36" y="319.98" width="8.08" height="7.65" fill="#fdddcb"/>
<rect x="231.14" y="319.98" width="8.08" height="7.65" fill="#fce2d3"/>
<rect x="238.92" y="319.98" width="8.08" height="7.65" fill="#5ca3cc"/>
<rect x="246.70" y="319.98" width="8.08" height="7.65" fill="#dd7059"/>
<rect x="254.48" y="319.98" width="8.08" height="7.65" fill="#8dc2dc"/>
<rect x="168.90" y="327.34" width="8.08" height="7.65" fill="#f9c3a8"/>
<rect x="176.68" y="327.34" width="8.08" height="7.65" fill="#b5d7e8"/>
<rect x="184.46" y="327.34" width="8.08" height="7.65" fill="#f09d7c"/>
<rect x="192.24" y="327.34" width="8.08" height="7.65" fill="#3d8bbf"/>
<rect x="200.02" y="327.34" width="8.08" height="7.65" fill="#84bcd9"/>
<rect x="207.80" y="327.34" width="8.08" height="7.65" fill="#fdddcb"/>
<rect x="215.58" y="327.34" width="8.08" height="7.65" fill="#f9c3a8"/>
<rect x="223.36" y="327.34" width="8.08" height="7.65" fill="#b5d7e8"/>
<rect x="231.14" y="327.34" width="8.08" height="7.65" fill="#f9ece5"/>
<rect x="238.92" y="327.34" width="8.08" height="7.65" fill="#d2e6f0"/>
<rect x="246.70" y="327.34" width="8.08" height="7.65" fill="#e17a61"/>
<rect x="254.48" y="327.34" width="8.08" height="7.65" fill="#d2e6f0"/>
<rect x="168.90" y="334.69" width="8.08" height="7.65" fill="#fae7dc"/>
<rect x="176.68" y="334.69" width="8.08" height="7.65" fill="#f3a280"/>
<rect x="184.46" y="334.69" width="8.08" height="7.65" fill="#ee9777"/>
<rect x="192.24" y="334.69" width="8.08" height="7.65" fill="#3d8bbf"/>
<rect x="200.02" y="334.69" width="8.08" height="7.65" fill="#fcd6c0"/>
<rect x="207.80" y="334.69" width="8.08" height="7.65" fill="#f9c3a8"/>
<rect x="215.58" y="334.69" width="8.08" height="7.65" fill="#fcd6c0"/>
<rect x="223.36" y="334.69" width="8.08" height="7.65" fill="#fce2d3"/>
<rect x="231.14" y="334.69" width="8.08" height="7.65" fill="#f8f2ee"/>
<rect x="238.92" y="334.69" width="8.08" height="7.65" fill="#70afd2"/>
<rect x="246.70" y="334.69" width="8.08" height="7.65" fill="#f8f2ee"/>
<rect x="254.48" y="334.69" width="8.08" height="7.65" fill="#7ab6d6"/>
<rect x="168.90" y="342.04" width="8.08" height="7.65" fill="#fcd6c0"/>
<rect x="176.68" y="342.04" width="8.08" height="7.65" fill="#fdddcb"/>
<rect x="184.46" y="342.04" width="8.08" height="7.65" fill="#fdddcb"/>
<rect x="192.24" y="342.04" width="8.08" height="7.65" fill="#3d8bbf"/>
<rect x="200.02" y="342.04" width="8.08" height="7.65" fill="#fcd6c0"/>
<rect x="207.80" y="342.04" width="8.08" height="7.65" fill="#dbeaf2"/>
<rect x="215.58" y="342.04" width="8.08" height="7.65" fill="#f3a280"/>
<rect x="223.36" y="342.04" width="8.08" height="7.65" fill="#ee9777"/>
<rect x="231.14" y="342.04" width="8.08" height="7.65" fill="#fce2d3"/>
<rect x="238.92" y="342.04" width="8.08" height="7.65" fill="#96c7df"/>
<rect x="246.70" y="342.04" width="8.08" height="7.65" fill="#a5cfe4"/>
<rect x="254.48" y="342.04" width="8.08" height="7.65" fill="#66a9cf"/>
<rect x="168.90" y="349.40" width="8.08" height="7.65" fill="#a5cfe4"/>
<rect x="176.68" y="349.40" width="8.08" height="7.65" fill="#f6b090"/>
<rect x="184.46" y="349.40" width="8.08" height="7.65" fill="#f9c3a8"/>
<rect x="192.24" y="349.40" width="8.08" height="7.65" fill="#529dc8"/>
<rect x="200.02" y="349.40" width="8.08" height="7.65" fill="#f8f2ee"/>
<rect x="207.80" y="349.40" width="8.08" height="7.65" fill="#f7f7f7"/>
<rect x="215.58" y="349.40" width="8.08" height="7.65" fill="#fce2d3"/>
<rect x="223.36" y="349.40" width="8.08" height="7.65" fill="#ee9777"/>
<rect x="231.14" y="349.40" width="8.08" height="7.65" fill="#f6b090"/>
<rect x="238.92" y="349.40" width="8.08" height="7.65" fill="#96c7df"/>
<rect x="246.70" y="349.40" width="8.08" height="7.65" fill="#f8f2ee"/>
<rect x="254.48" y="349.40" width="8.08" height="7.65" fill="#529dc8"/>
<rect x="168.90" y="356.75" width="8.08" height="7.65" fill="#b5d7e8"/>
<rect x="176.68" y="356.75" width="8.08" height="7.65" fill="#f3a280"/>
<rect x="184.46" y="356.75" width="8.08" height="7.65" fill="#fce2d3"/>
<rect x="192.24" y="356.75" width="8.08" height="7.65" fill="#d2e6f0"/>
<rect x="200.02" y="356.75" width="8.08" height="7.65" fill="#fce2d3"/>
<rect x="207.80" y="356.75" width="8.08" height="7.65" fill="#f8f2ee"/>
<rect x="215.58" y="356.75" width="8.08" height="7.65" fill="#d45b4b"/>
<rect x="223.36" y="356.75" width="8.08" height="7.65" fill="#f3a280"/>
<rect x="231.14" y="356.75" width="8.08" height="7.65" fill="#b5d7e8"/>
<rect x="238.92" y="356.75" width="8.08" height="7.65" fill="#fae7dc"/>
<rect x="246.70" y="356.75" width="8.08" height="7.65" fill="#70afd2"/>
<rect x="254.48" y="356.75" width="8.08" height="7.65" fill="#70afd2"/>
<rect x="168.90" y="364.11" width="8.08" height="7.65" fill="#fae7dc"/>
<rect x="176.68" y="364.11" width="8.08" height="7.65" fill="#dbeaf2"/>
<rect x="184.46" y="364.11" width="8.08" height="7.65" fill="#96c7df"/>
<rect x="192.24" y="364.11" width="8.08" height="7.65" fill="#fae7dc"/>
<rect x="200.02" y="364.11" width="8.08" height="7.65" fill="#d2e6f0"/>
<rect x="207.80" y="364.11" width="8.08" height="7.65" fill="#f8f2ee"/>
<rect x="215.58" y="364.11" width="8.08" height="7.65" fill="#800823"/>
<rect x="223.36" y="364.11" width="8.08" height="7.65" fill="#e5eef4"/>
<rect x="231.14" y="364.11" width="8.08" height="7.65" fill="#d2e6f0"/>
<rect x="238.92" y="364.11" width="8.08" height="7.65" fill="#f8f2ee"/>
<rect x="246.70" y="364.11" width="8.08" height="7.65" fill="#d2e6f0"/>
<rect x="254.48" y="364.11" width="8.08" height="7.65" fill="#c4deec"/>
<rect x="168.90" y="371.46" width="8.08" height="7.65" fill="#f9c3a8"/>
<rect x="176.68" y="371.46" width="8.08" height="7.65" fill="#fce2d3"/>
<rect x="184.46" y="371.46" width="8.08" height="7.65" fill="#f7f7f7"/>
<rect x="192.24" y="371.46" width="8.08" height="7.65" fill="#c4deec"/>
<rect x="200.02" y="371.46" width="8.08" height="7.65" fill="#8dc2dc"/>
<rect x="207.80" y="371.46" width="8.08" height="7.65" fill="#b5d7e8"/>
<rect x="215.58" y="371.46" width="8.08" height="7.65" fill="#f9ece5"/>
<rect x="223.36" y="371.46" width="8.08" height="7.65" fill="#ee9777"/>
<rect x="231.14" y="371.46" width="8.08" height="7.65" fill="#be3036"/>
<rect x="238.92" y="371.46" width="8.08" height="7.65" fill="#7ab6d6"/>
<rect x="246.70" y="371.46" width="8.08" height="7.65" fill="#d2e6f0"/>
<rect x="254.48" y="371.46" width="8.08" height="7.65" fill="#f9ece5"/>
<rect x="168.90" y="378.81" width="8.08" height="7.65" fill="#f9ece5"/>
<rect x="176.68" y="378.81" width="8.08" height="7.65" fill="#fcd6c0"/>
<rect x="184.46" y="378.81" width="8.08" height="7.65" fill="#fce2d3"/>
<rect x="192.24" y="378.81" width="8.08" height="7.65" fill="#d2e6f0"/>
<rect x="200.02" y="378.81" width="8.08" height="7.65" fill="#f7f7f7"/>
<rect x="207.80" y="378.81" width="8.08" height="7.65" fill="#b5d7e8"/>
<rect x="215.58" y="378.81" width="8.08" height="7.65" fill="#96c7df"/>
<rect x="223.36" y="378.81" width="8.08" height="7.65" fill="#e17a61"/>
<rect x="231.14" y="378.81" width="8.08" height="7.65" fill="#ce5046"/>
<rect x="238.92" y="378.81" width="8.08" height="7.65" fill="#eef3f5"/>
<rect x="246.70" y="378.81" width="8.08" height="7.65" fill="#7ab6d6"/>
<rect x="254.48" y="378.81" width="8.08" height="7.65" fill="#f8f2ee"/>
<rect x="168.90" y="386.17" width="8.08" height="7.65" fill="#f9ece5"/>
<rect x="176.68" y="386.17" width="8.08" height="7.65" fill="#f09d7c"/>
<rect x="184.46" y="386.17" width="8.08" height="7.65" fill="#fce2d3"/>
<rect x="192.24" y="386.17" width="8.08" height="7.65" fill="#84bcd9"/>
<rect x="200.02" y="386.17" width="8.08" height="7.65" fill="#f7f7f7"/>
<rect x="207.80" y="386.17" width="8.08" height="7.65" fill="#a5cfe4"/>
<rect x="215.58" y="386.17" width="8.08" height="7.65" fill="#dbeaf2"/>
<rect x="223.36" y="386.17" width="8.08" height="7.65" fill="#fdddcb"/>
<rect x="231.14" y="386.17" width="8.08" height="7.65" fill="#c94641"/>
<rect x="238.92" y="386.17" width="8.08" height="7.65" fill="#96c7df"/>
<rect x="246.70" y="386.17" width="8.08" height="7.65" fill="#b5d7e8"/>
<rect x="254.48" y="386.17" width="8.08" height="7.65" fill="#f4a785"/>
<rect x="168.90" y="393.52" width="8.08" height="7.65" fill="#fbccb4"/>
<rect x="176.68" y="393.52" width="8.08" height="7.65" fill="#dd7059"/>
<rect x="184.46" y="393.52" width="8.08" height="7.65" fill="#8dc2dc"/>
<rect x="192.24" y="393.52" width="8.08" height="7.65" fill="#fce2d3"/>
<rect x="200.02" y="393.52" width="8.08" height="7.65" fill="#fae7dc"/>
<rect x="207.80" y="393.52" width="8.08" height="7.65" fill="#3480b9"/>
<rect x="215.58" y="393.52" width="8.08" height="7.65" fill="#f9ece5"/>
<rect x="223.36" y="393.52" width="8.08" height="7.65" fill="#d2e6f0"/>
<rect x="231.14" y="393.52" width="8.08" height="7.65" fill="#f4a785"/>
<rect x="238.92" y="393.52" width="8.08" height="7.65" fill="#b5d7e8"/>
<rect x="246.70" y="393.52" width="8.08" height="7.65" fill="#c4deec"/>
<rect x="254.48" y="393.52" width="8.08" height="7.65" fill="#fdddcb"/>
<rect x="168.90" y="400.88" width="8.08" height="7.65" fill="#f9c3a8"/>
<rect x="176.68" y="400.88" width="8.08" height="7.65" fill="#e17a61"/>
<rect x="184.46" y="400.88" width="8.08" height="7.65" fill="#f8f2ee"/>
<rect x="192.24" y="400.88" width="8.08" height="7.65" fill="#f9c3a8"/>
<rect x="200.02" y="400.88" width="8.08" height="7.65" fill="#96c7df"/>
<rect x="207.80" y="400.88" width="8.08" height="7.65" fill="#3480b9"/>
<rect x="215.58" y="400.88" width="8.08" height="7.65" fill="#e5eef4"/>
<rect x="223.36" y="400.88" width="8.08" height="7.65" fill="#fce2d3"/>
<rect x="231.14" y="400.88" width="8.08" height="7.65" fill="#fdddcb"/>
<rect x="238.92" y="400.88" width="8.08" height="7.65" fill="#8dc2dc"/>
<rect x="246.70" y="400.88" width="8.08" height="7.65" fill="#eef3f5"/>
<rect x="254.48" y="400.88" width="8.08" height="7.65" fill="#fae7dc"/>
<rect x="168.90" y="408.23" width="8.08" height="7.65" fill="#f7b99c"/>
<rect x="176.68" y="408.23" width="8.08" height="7.65" fill="#f7b99c"/>
<rect x="184.46" y="408.23" width="8.08" height="7.65" fill="#d2e6f0"/>
<rect x="192.24" y="408.23" width="8.08" height="7.65" fill="#d2e6f0"/>
<rect x="200.02" y="408.23" width="8.08" height="7.65" fill="#8dc2dc"/>
<rect x="207.80" y="408.23" width="8.08" height="7.65" fill="#eef3f5"/>
<rect x="215.58" y="408.23" width="8.08" height="7.65" fill="#fae7dc"/>
<rect x="223.36" y="408.23" width="8.08" height="7.65" fill="#b92631"/>
<rect x="231.14" y="408.23" width="8.08" height="7.65" fill="#fdddcb"/>
<rect x="238.92" y="408.23" width="8.08" height="7.65" fill="#8dc2dc"/>
<rect x="246.70" y="408.23" width="8.08" height="7.65" fill="#d2e6f0"/>
<rect x="254.48" y="408.23" width="8.08" height="7.65" fill="#96c7df"/>
<rect x="168.90" y="415.58" width="8.08" height="7.65" fill="#f09d7c"/>
<rect x="176.68" y="415.58" width="8.08" height="7.65" fill="#f3a280"/>
<rect x="184.46" y="415.58" width="8.08" height="7.65" fill="#dbeaf2"/>
<rect x="192.24" y="415.58" width="8.08" height="7.65" fill="#f8f2ee"/>
<rect x="200.02" y="415.58" width="8.08" height="7.65" fill="#8dc2dc"/>
<rect x="207.80" y="415.58" width="8.08" height="7.65" fill="#dbeaf2"/>
<rect x="215.58" y="415.58" width="8.08" height="7.65" fill="#f9ece5"/>
<rect x="223.36" y="415.58" width="8.08" height="7.65" fill="#f4a785"/>
<rect x="231.14" y="415.58" width="8.08" height="7.65" fill="#f4a785"/>
<rect x="238.92" y="415.58" width="8.08" height="7.65" fill="#8dc2dc"/>
<rect x="246.70" y="415.58" width="8.08" height="7.65" fill="#96c7df"/>
<rect x="254.48" y="415.58" width="8.08" height="7.65" fill="#a5cfe4"/>
<rect x="168.90" y="422.94" width="8.08" height="7.65" fill="#f7b99c"/>
<rect x="176.68" y="422.94" width="8.08" height="7.65" fill="#b41b2d"/>
<rect x="184.46" y="422.94" width="8.08" height="7.65" fill="#fae7dc"/>
<rect x="192.24" y="422.94" width="8.08" height="7.65" fill="#dbeaf2"/>
<rect x="200.02" y="422.94" width="8.08" height="7.65" fill="#f8f2ee"/>
<rect x="207.80" y="422.94" width="8.08" height="7.65" fill="#b5d7e8"/>
<rect x="215.58" y="422.94" width="8.08" height="7.65" fill="#b5d7e8"/>
<rect x="223.36" y="422.94" width="8.08" height="7.65" fill="#fce2d3"/>
<rect x="231.14" y="422.94" width="8.08" height="7.65" fill="#f9c3a8"/>
<rect x="238.92" y="422.94" width="8.08" height="7.65" fill="#8dc2dc"/>
<rect x="246.70" y="422.94" width="8.08" height="7.65" fill="#84bcd9"/>
<rect x="254.48" y="422.94" width="8.08" height="7.65" fill="#b5d7e8"/>
<rect x="168.90" y="430.29" width="8.08" height="7.65" fill="#ee9777"/>
<rect x="176.68" y="430.29" width="8.08" height="7.65" fill="#f09d7c"/>
<rect x="184.46" y="430.29" width="8.08" height="7.65" fill="#fce2d3"/>
<rect x="192.24" y="430.29" width="8.08" height="7.65" fill="#d2e6f0"/>
<rect x="200.02" y="430.29" width="8.08" height="7.65" fill="#b5d7e8"/>
<rect x="207.80" y="430.29" width="8.08" height="7.65" fill="#70afd2"/>
<rect x="215.58" y="430.29" width="8.08" height="7.65" fill="#f7f7f7"/>
<rect x="223.36" y="430.29" width="8.08" height="7.65" fill="#f6b090"/>
<rect x="231.14" y="430.29" width="8.08" height="7.65" fill="#fdddcb"/>
<rect x="238.92" y="430.29" width="8.08" height="7.65" fill="#a5cfe4"/>
<rect x="246.70" y="430.29" width="8.08" height="7.65" fill="#5ca3cc"/>
<rect x="254.48" y="430.29" width="8.08" height="7.65" fill="#d2e6f0"/>
<rect x="168.90" y="437.65" width="8.08" height="7.65" fill="#f9ece5"/>
<rect x="176.68" y="437.65" width="8.08" height="7.65" fill="#dbeaf2"/>
<rect x="184.46" y="437.65" width="8.08" height="7.65" fill="#dbeaf2"/>
<rect x="192.24" y="437.65" width="8.08" height="7.65" fill="#e58368"/>
<rect x="200.02" y="437.65" width="8.08" height="7.65" fill="#eef3f5"/>
<rect x="207.80" y="437.65" width="8.08" height="7.65" fill="#70afd2"/>
<rect x="215.58" y="437.65" width="8.08" height="7.65" fill="#b5d7e8"/>
<rect x="223.36" y="437.65" width="8.08" height="7.65" fill="#f9c3a8"/>
<rect x="231.14" y="437.65" width="8.08" height="7.65" fill="#fce2d3"/>
<rect x="238.92" y="437.65" width="8.08" height="7.65" fill="#529dc8"/>
<rect x="246.70" y="437.65" width="8.08" height="7.65" fill="#c94641"/>
<rect x="254.48" y="437.65" width="8.08" height="7.65" fill="#dbeaf2"/>
<text x="265.8" y="179.67702702702704" font-size="6.45" fill="#2a2a2a" text-anchor="start" font-weight="normal" stroke="#2a2a2a" stroke-width="0.06" >L-glutamate</text>
<text x="265.8" y="187.03108108108108" font-size="6.45" fill="#2a2a2a" text-anchor="start" font-weight="normal" stroke="#2a2a2a" stroke-width="0.06" >5-Hydroxyindol.</text>
<text x="265.8" y="194.38513513513516" font-size="6.45" fill="#2a2a2a" text-anchor="start" font-weight="normal" stroke="#2a2a2a" stroke-width="0.06" >L-serine</text>
<text x="265.8" y="201.7391891891892" font-size="6.45" fill="#2a2a2a" text-anchor="start" font-weight="normal" stroke="#2a2a2a" stroke-width="0.06" >FA 18:2</text>
<text x="265.8" y="209.09324324324325" font-size="6.45" fill="#2a2a2a" text-anchor="start" font-weight="normal" stroke="#2a2a2a" stroke-width="0.06" >L-proline</text>
<text x="265.8" y="216.44729729729733" font-size="6.45" fill="#2a2a2a" text-anchor="start" font-weight="normal" stroke="#2a2a2a" stroke-width="0.06" >FA 14:0</text>
<text x="265.8" y="223.80135135135137" font-size="6.45" fill="#2a2a2a" text-anchor="start" font-weight="normal" stroke="#2a2a2a" stroke-width="0.06" >Cytosine</text>
<text x="265.8" y="231.15540540540542" font-size="6.45" fill="#2a2a2a" text-anchor="start" font-weight="normal" stroke="#2a2a2a" stroke-width="0.06" >Biliverdin</text>
<text x="265.8" y="238.5094594594595" font-size="6.45" fill="#2a2a2a" text-anchor="start" font-weight="normal" stroke="#2a2a2a" stroke-width="0.06" >AcCA (C4 DC)</text>
<text x="265.8" y="245.86351351351354" font-size="6.45" fill="#2a2a2a" text-anchor="start" font-weight="normal" stroke="#2a2a2a" stroke-width="0.06" >Sedoheptulose P</text>
<text x="265.8" y="253.21756756756758" font-size="6.45" fill="#2a2a2a" text-anchor="start" font-weight="normal" stroke="#2a2a2a" stroke-width="0.06" >5–6-Dihydrothymine</text>
<text x="265.8" y="260.57162162162166" font-size="6.45" fill="#2a2a2a" text-anchor="start" font-weight="normal" stroke="#2a2a2a" stroke-width="0.06" >Acetylcholine</text>
<text x="265.8" y="267.9256756756757" font-size="6.45" fill="#2a2a2a" text-anchor="start" font-weight="normal" stroke="#2a2a2a" stroke-width="0.06" >AcCa (C2)</text>
<text x="265.8" y="275.27972972972975" font-size="6.45" fill="#2a2a2a" text-anchor="start" font-weight="normal" stroke="#2a2a2a" stroke-width="0.06" >Fructose BP</text>
<text x="265.8" y="282.6337837837838" font-size="6.45" fill="#2a2a2a" text-anchor="start" font-weight="normal" stroke="#2a2a2a" stroke-width="0.06" >L-glutamine</text>
<text x="265.8" y="289.98783783783784" font-size="6.45" fill="#2a2a2a" text-anchor="start" font-weight="normal" stroke="#2a2a2a" stroke-width="0.06" >5–Oxoproline</text>
<text x="265.8" y="297.3418918918919" font-size="6.45" fill="#2a2a2a" text-anchor="start" font-weight="normal" stroke="#2a2a2a" stroke-width="0.06" >Ribose PP</text>
<text x="265.8" y="304.695945945946" font-size="6.5" fill="#b5122b" text-anchor="start" font-weight="bold"  >S1P</text>
<text x="265.8" y="312.05" font-size="6.45" fill="#2a2a2a" text-anchor="start" font-weight="normal" stroke="#2a2a2a" stroke-width="0.06" >Cys-Gly</text>
<text x="265.8" y="319.4040540540541" font-size="6.45" fill="#2a2a2a" text-anchor="start" font-weight="normal" stroke="#2a2a2a" stroke-width="0.06" >AcCa (C16:1)</text>
<text x="265.8" y="326.75810810810816" font-size="6.45" fill="#2a2a2a" text-anchor="start" font-weight="normal" stroke="#2a2a2a" stroke-width="0.06" >AcCa (C12)</text>
<text x="265.8" y="334.1121621621622" font-size="6.45" fill="#2a2a2a" text-anchor="start" font-weight="normal" stroke="#2a2a2a" stroke-width="0.06" >AcCa (C14)</text>
<text x="265.8" y="341.46621621621625" font-size="6.45" fill="#2a2a2a" text-anchor="start" font-weight="normal" stroke="#2a2a2a" stroke-width="0.06" >CMP-N-acetylneu.</text>
<text x="265.8" y="348.8202702702703" font-size="6.45" fill="#2a2a2a" text-anchor="start" font-weight="normal" stroke="#2a2a2a" stroke-width="0.06" >UDP-glucose</text>
<text x="265.8" y="356.17432432432435" font-size="6.45" fill="#2a2a2a" text-anchor="start" font-weight="normal" stroke="#2a2a2a" stroke-width="0.06" >Pyruvate</text>
<text x="265.8" y="363.5283783783784" font-size="6.45" fill="#2a2a2a" text-anchor="start" font-weight="normal" stroke="#2a2a2a" stroke-width="0.06" >Methenyltetrafolate</text>
<text x="265.8" y="370.8824324324325" font-size="6.45" fill="#2a2a2a" text-anchor="start" font-weight="normal" stroke="#2a2a2a" stroke-width="0.06" >FA 14:0</text>
<text x="265.8" y="378.2364864864865" font-size="6.45" fill="#2a2a2a" text-anchor="start" font-weight="normal" stroke="#2a2a2a" stroke-width="0.06" >Ethanolamine P</text>
<text x="265.8" y="385.5905405405406" font-size="6.45" fill="#2a2a2a" text-anchor="start" font-weight="normal" stroke="#2a2a2a" stroke-width="0.06" >Putrescine</text>
<text x="265.8" y="392.94459459459466" font-size="6.45" fill="#2a2a2a" text-anchor="start" font-weight="normal" stroke="#2a2a2a" stroke-width="0.06" >Spermidine</text>
<text x="265.8" y="400.2986486486487" font-size="6.45" fill="#2a2a2a" text-anchor="start" font-weight="normal" stroke="#2a2a2a" stroke-width="0.06" >Allantoin</text>
<text x="265.8" y="407.65270270270275" font-size="6.45" fill="#2a2a2a" text-anchor="start" font-weight="normal" stroke="#2a2a2a" stroke-width="0.06" >Glycerol 3P</text>
<text x="265.8" y="415.00675675675683" font-size="6.45" fill="#2a2a2a" text-anchor="start" font-weight="normal" stroke="#2a2a2a" stroke-width="0.06" >P-Glycerate</text>
<text x="265.8" y="422.36081081081085" font-size="6.45" fill="#2a2a2a" text-anchor="start" font-weight="normal" stroke="#2a2a2a" stroke-width="0.06" >Citrate</text>
<text x="265.8" y="429.7148648648649" font-size="6.45" fill="#2a2a2a" text-anchor="start" font-weight="normal" stroke="#2a2a2a" stroke-width="0.06" >Ribose</text>
<text x="265.8" y="437.068918918919" font-size="6.45" fill="#2a2a2a" text-anchor="start" font-weight="normal" stroke="#2a2a2a" stroke-width="0.06" >Xylan</text>
<text x="265.8" y="444.422972972973" font-size="6.45" fill="#2a2a2a" text-anchor="start" font-weight="normal" stroke="#2a2a2a" stroke-width="0.06" >Cytidine</text>
<rect x="355.80" y="173.70" width="5.58" height="7.65" fill="#f4a785"/>
<rect x="361.08" y="173.70" width="5.58" height="7.65" fill="#e6eff4"/>
<rect x="366.36" y="173.70" width="5.58" height="7.65" fill="#dbeaf2"/>
<rect x="371.63" y="173.70" width="5.58" height="7.65" fill="#dbeaf2"/>
<rect x="376.91" y="173.70" width="5.58" height="7.65" fill="#c4deec"/>
<rect x="382.19" y="173.70" width="5.58" height="7.65" fill="#f4a785"/>
<rect x="387.47" y="173.70" width="5.58" height="7.65" fill="#dbeaf2"/>
<rect x="392.74" y="173.70" width="5.58" height="7.65" fill="#dbeaf2"/>
<rect x="398.02" y="173.70" width="5.58" height="7.65" fill="#c4deec"/>
<rect x="403.30" y="173.70" width="5.58" height="7.65" fill="#ce5046"/>
<rect x="408.58" y="173.70" width="5.58" height="7.65" fill="#e17a61"/>
<rect x="413.86" y="173.70" width="5.58" height="7.65" fill="#fce2d3"/>
<rect x="419.13" y="173.70" width="5.58" height="7.65" fill="#dbeaf2"/>
<rect x="424.41" y="173.70" width="5.58" height="7.65" fill="#f9ece5"/>
<rect x="429.69" y="173.70" width="5.58" height="7.65" fill="#dbeaf2"/>
<rect x="434.97" y="173.70" width="5.58" height="7.65" fill="#84bcd9"/>
<rect x="440.24" y="173.70" width="5.58" height="7.65" fill="#8dc2dc"/>
<rect x="445.52" y="173.70" width="5.58" height="7.65" fill="#d2e6f0"/>
<rect x="355.80" y="181.05" width="5.58" height="7.65" fill="#f9c3a8"/>
<rect x="361.08" y="181.05" width="5.58" height="7.65" fill="#f4a785"/>
<rect x="366.36" y="181.05" width="5.58" height="7.65" fill="#f4a785"/>
<rect x="371.63" y="181.05" width="5.58" height="7.65" fill="#a5cfe4"/>
<rect x="376.91" y="181.05" width="5.58" height="7.65" fill="#d2e6f0"/>
<rect x="382.19" y="181.05" width="5.58" height="7.65" fill="#f6b090"/>
<rect x="387.47" y="181.05" width="5.58" height="7.65" fill="#d2e6f0"/>
<rect x="392.74" y="181.05" width="5.58" height="7.65" fill="#c4deec"/>
<rect x="398.02" y="181.05" width="5.58" height="7.65" fill="#c4deec"/>
<rect x="403.30" y="181.05" width="5.58" height="7.65" fill="#fce2d3"/>
<rect x="408.58" y="181.05" width="5.58" height="7.65" fill="#f09d7c"/>
<rect x="413.86" y="181.05" width="5.58" height="7.65" fill="#dd7059"/>
<rect x="419.13" y="181.05" width="5.58" height="7.65" fill="#a5cfe4"/>
<rect x="424.41" y="181.05" width="5.58" height="7.65" fill="#f9ece5"/>
<rect x="429.69" y="181.05" width="5.58" height="7.65" fill="#dbeaf2"/>
<rect x="434.97" y="181.05" width="5.58" height="7.65" fill="#84bcd9"/>
<rect x="440.24" y="181.05" width="5.58" height="7.65" fill="#8dc2dc"/>
<rect x="445.52" y="181.05" width="5.58" height="7.65" fill="#c7e0ed"/>
<rect x="355.80" y="188.39" width="5.58" height="7.65" fill="#fce2d3"/>
<rect x="361.08" y="188.39" width="5.58" height="7.65" fill="#fbccb4"/>
<rect x="366.36" y="188.39" width="5.58" height="7.65" fill="#f4a785"/>
<rect x="371.63" y="188.39" width="5.58" height="7.65" fill="#dbeaf2"/>
<rect x="376.91" y="188.39" width="5.58" height="7.65" fill="#ddebf2"/>
<rect x="382.19" y="188.39" width="5.58" height="7.65" fill="#dbeaf2"/>
<rect x="387.47" y="188.39" width="5.58" height="7.65" fill="#d2e6f0"/>
<rect x="392.74" y="188.39" width="5.58" height="7.65" fill="#d2e6f0"/>
<rect x="398.02" y="188.39" width="5.58" height="7.65" fill="#3d8bbf"/>
<rect x="403.30" y="188.39" width="5.58" height="7.65" fill="#f6b090"/>
<rect x="408.58" y="188.39" width="5.58" height="7.65" fill="#f3a280"/>
<rect x="413.86" y="188.39" width="5.58" height="7.65" fill="#fae7dc"/>
<rect x="419.13" y="188.39" width="5.58" height="7.65" fill="#f7b99c"/>
<rect x="424.41" y="188.39" width="5.58" height="7.65" fill="#f9ece5"/>
<rect x="429.69" y="188.39" width="5.58" height="7.65" fill="#dbeaf2"/>
<rect x="434.97" y="188.39" width="5.58" height="7.65" fill="#96c7df"/>
<rect x="440.24" y="188.39" width="5.58" height="7.65" fill="#96c7df"/>
<rect x="445.52" y="188.39" width="5.58" height="7.65" fill="#5ca3cc"/>
<rect x="355.80" y="195.74" width="5.58" height="7.65" fill="#fdddcb"/>
<rect x="361.08" y="195.74" width="5.58" height="7.65" fill="#fce2d3"/>
<rect x="366.36" y="195.74" width="5.58" height="7.65" fill="#fbccb4"/>
<rect x="371.63" y="195.74" width="5.58" height="7.65" fill="#ddebf2"/>
<rect x="376.91" y="195.74" width="5.58" height="7.65" fill="#fce2d3"/>
<rect x="382.19" y="195.74" width="5.58" height="7.65" fill="#e6eff4"/>
<rect x="387.47" y="195.74" width="5.58" height="7.65" fill="#dbeaf2"/>
<rect x="392.74" y="195.74" width="5.58" height="7.65" fill="#dbeaf2"/>
<rect x="398.02" y="195.74" width="5.58" height="7.65" fill="#3d8bbf"/>
<rect x="403.30" y="195.74" width="5.58" height="7.65" fill="#f6b090"/>
<rect x="408.58" y="195.74" width="5.58" height="7.65" fill="#f7b99c"/>
<rect x="413.86" y="195.74" width="5.58" height="7.65" fill="#fcd6c0"/>
<rect x="419.13" y="195.74" width="5.58" height="7.65" fill="#fce2d3"/>
<rect x="424.41" y="195.74" width="5.58" height="7.65" fill="#f9ece5"/>
<rect x="429.69" y="195.74" width="5.58" height="7.65" fill="#dbeaf2"/>
<rect x="434.97" y="195.74" width="5.58" height="7.65" fill="#96c7df"/>
<rect x="440.24" y="195.74" width="5.58" height="7.65" fill="#96c7df"/>
<rect x="445.52" y="195.74" width="5.58" height="7.65" fill="#84bcd9"/>
<rect x="355.80" y="203.09" width="5.58" height="7.65" fill="#f4a785"/>
<rect x="361.08" y="203.09" width="5.58" height="7.65" fill="#d45b4b"/>
<rect x="366.36" y="203.09" width="5.58" height="7.65" fill="#f6b090"/>
<rect x="371.63" y="203.09" width="5.58" height="7.65" fill="#e6eff4"/>
<rect x="376.91" y="203.09" width="5.58" height="7.65" fill="#ddebf2"/>
<rect x="382.19" y="203.09" width="5.58" height="7.65" fill="#dbeaf2"/>
<rect x="387.47" y="203.09" width="5.58" height="7.65" fill="#a5cfe4"/>
<rect x="392.74" y="203.09" width="5.58" height="7.65" fill="#ddebf2"/>
<rect x="398.02" y="203.09" width="5.58" height="7.65" fill="#2c74b3"/>
<rect x="403.30" y="203.09" width="5.58" height="7.65" fill="#e17a61"/>
<rect x="408.58" y="203.09" width="5.58" height="7.65" fill="#f6b090"/>
<rect x="413.86" y="203.09" width="5.58" height="7.65" fill="#fce2d3"/>
<rect x="419.13" y="203.09" width="5.58" height="7.65" fill="#f9ece5"/>
<rect x="424.41" y="203.09" width="5.58" height="7.65" fill="#f9ece5"/>
<rect x="429.69" y="203.09" width="5.58" height="7.65" fill="#dbeaf2"/>
<rect x="434.97" y="203.09" width="5.58" height="7.65" fill="#b5d7e8"/>
<rect x="440.24" y="203.09" width="5.58" height="7.65" fill="#b5d7e8"/>
<rect x="445.52" y="203.09" width="5.58" height="7.65" fill="#c4deec"/>
<rect x="355.80" y="210.44" width="5.58" height="7.65" fill="#f3a280"/>
<rect x="361.08" y="210.44" width="5.58" height="7.65" fill="#e58368"/>
<rect x="366.36" y="210.44" width="5.58" height="7.65" fill="#f4a785"/>
<rect x="371.63" y="210.44" width="5.58" height="7.65" fill="#ddebf2"/>
<rect x="376.91" y="210.44" width="5.58" height="7.65" fill="#c7e0ed"/>
<rect x="382.19" y="210.44" width="5.58" height="7.65" fill="#a5cfe4"/>
<rect x="387.47" y="210.44" width="5.58" height="7.65" fill="#ddebf2"/>
<rect x="392.74" y="210.44" width="5.58" height="7.65" fill="#a5cfe4"/>
<rect x="398.02" y="210.44" width="5.58" height="7.65" fill="#dbeaf2"/>
<rect x="403.30" y="210.44" width="5.58" height="7.65" fill="#f0f4f6"/>
<rect x="408.58" y="210.44" width="5.58" height="7.65" fill="#f3a280"/>
<rect x="413.86" y="210.44" width="5.58" height="7.65" fill="#ee9777"/>
<rect x="419.13" y="210.44" width="5.58" height="7.65" fill="#fae7dc"/>
<rect x="424.41" y="210.44" width="5.58" height="7.65" fill="#f9ece5"/>
<rect x="429.69" y="210.44" width="5.58" height="7.65" fill="#dbeaf2"/>
<rect x="434.97" y="210.44" width="5.58" height="7.65" fill="#8dc2dc"/>
<rect x="440.24" y="210.44" width="5.58" height="7.65" fill="#b5d7e8"/>
<rect x="445.52" y="210.44" width="5.58" height="7.65" fill="#d2e6f0"/>
<rect x="355.80" y="217.78" width="5.58" height="7.65" fill="#f6b090"/>
<rect x="361.08" y="217.78" width="5.58" height="7.65" fill="#e58368"/>
<rect x="366.36" y="217.78" width="5.58" height="7.65" fill="#f4a785"/>
<rect x="371.63" y="217.78" width="5.58" height="7.65" fill="#ddebf2"/>
<rect x="376.91" y="217.78" width="5.58" height="7.65" fill="#e6eff4"/>
<rect x="382.19" y="217.78" width="5.58" height="7.65" fill="#a5cfe4"/>
<rect x="387.47" y="217.78" width="5.58" height="7.65" fill="#ddebf2"/>
<rect x="392.74" y="217.78" width="5.58" height="7.65" fill="#a5cfe4"/>
<rect x="398.02" y="217.78" width="5.58" height="7.65" fill="#d2e6f0"/>
<rect x="403.30" y="217.78" width="5.58" height="7.65" fill="#f0f4f6"/>
<rect x="408.58" y="217.78" width="5.58" height="7.65" fill="#f6b090"/>
<rect x="413.86" y="217.78" width="5.58" height="7.65" fill="#fdddcb"/>
<rect x="419.13" y="217.78" width="5.58" height="7.65" fill="#f9ece5"/>
<rect x="424.41" y="217.78" width="5.58" height="7.65" fill="#f9ece5"/>
<rect x="429.69" y="217.78" width="5.58" height="7.65" fill="#dbeaf2"/>
<rect x="434.97" y="217.78" width="5.58" height="7.65" fill="#8dc2dc"/>
<rect x="440.24" y="217.78" width="5.58" height="7.65" fill="#b5d7e8"/>
<rect x="445.52" y="217.78" width="5.58" height="7.65" fill="#d2e6f0"/>
<rect x="355.80" y="225.13" width="5.58" height="7.65" fill="#f6b090"/>
<rect x="361.08" y="225.13" width="5.58" height="7.65" fill="#ea8d70"/>
<rect x="366.36" y="225.13" width="5.58" height="7.65" fill="#f5ab8a"/>
<rect x="371.63" y="225.13" width="5.58" height="7.65" fill="#e6eff4"/>
<rect x="376.91" y="225.13" width="5.58" height="7.65" fill="#ddebf2"/>
<rect x="382.19" y="225.13" width="5.58" height="7.65" fill="#b5d7e8"/>
<rect x="387.47" y="225.13" width="5.58" height="7.65" fill="#c7e0ed"/>
<rect x="392.74" y="225.13" width="5.58" height="7.65" fill="#b5d7e8"/>
<rect x="398.02" y="225.13" width="5.58" height="7.65" fill="#dbeaf2"/>
<rect x="403.30" y="225.13" width="5.58" height="7.65" fill="#fae7dc"/>
<rect x="408.58" y="225.13" width="5.58" height="7.65" fill="#f6b090"/>
<rect x="413.86" y="225.13" width="5.58" height="7.65" fill="#fdddcb"/>
<rect x="419.13" y="225.13" width="5.58" height="7.65" fill="#f9ece5"/>
<rect x="424.41" y="225.13" width="5.58" height="7.65" fill="#f9ece5"/>
<rect x="429.69" y="225.13" width="5.58" height="7.65" fill="#c7e0ed"/>
<rect x="434.97" y="225.13" width="5.58" height="7.65" fill="#b5d7e8"/>
<rect x="440.24" y="225.13" width="5.58" height="7.65" fill="#b5d7e8"/>
<rect x="445.52" y="225.13" width="5.58" height="7.65" fill="#dbeaf2"/>
<rect x="355.80" y="232.48" width="5.58" height="7.65" fill="#f09d7c"/>
<rect x="361.08" y="232.48" width="5.58" height="7.65" fill="#f9c3a8"/>
<rect x="366.36" y="232.48" width="5.58" height="7.65" fill="#dd7059"/>
<rect x="371.63" y="232.48" width="5.58" height="7.65" fill="#ddebf2"/>
<rect x="376.91" y="232.48" width="5.58" height="7.65" fill="#c7e0ed"/>
<rect x="382.19" y="232.48" width="5.58" height="7.65" fill="#c7e0ed"/>
<rect x="387.47" y="232.48" width="5.58" height="7.65" fill="#96c7df"/>
<rect x="392.74" y="232.48" width="5.58" height="7.65" fill="#a5cfe4"/>
<rect x="398.02" y="232.48" width="5.58" height="7.65" fill="#d2e6f0"/>
<rect x="403.30" y="232.48" width="5.58" height="7.65" fill="#f6b090"/>
<rect x="408.58" y="232.48" width="5.58" height="7.65" fill="#f3a280"/>
<rect x="413.86" y="232.48" width="5.58" height="7.65" fill="#f0f4f6"/>
<rect x="419.13" y="232.48" width="5.58" height="7.65" fill="#fae7dc"/>
<rect x="424.41" y="232.48" width="5.58" height="7.65" fill="#f9ece5"/>
<rect x="429.69" y="232.48" width="5.58" height="7.65" fill="#b5d7e8"/>
<rect x="434.97" y="232.48" width="5.58" height="7.65" fill="#dbeaf2"/>
<rect x="440.24" y="232.48" width="5.58" height="7.65" fill="#c4deec"/>
<rect x="445.52" y="232.48" width="5.58" height="7.65" fill="#d2e6f0"/>
<rect x="355.80" y="239.82" width="5.58" height="7.65" fill="#fae7dc"/>
<rect x="361.08" y="239.82" width="5.58" height="7.65" fill="#e6eff4"/>
<rect x="366.36" y="239.82" width="5.58" height="7.65" fill="#f7b99c"/>
<rect x="371.63" y="239.82" width="5.58" height="7.65" fill="#96c7df"/>
<rect x="376.91" y="239.82" width="5.58" height="7.65" fill="#ddebf2"/>
<rect x="382.19" y="239.82" width="5.58" height="7.65" fill="#dbeaf2"/>
<rect x="387.47" y="239.82" width="5.58" height="7.65" fill="#dbeaf2"/>
<rect x="392.74" y="239.82" width="5.58" height="7.65" fill="#d2e6f0"/>
<rect x="398.02" y="239.82" width="5.58" height="7.65" fill="#e6eff4"/>
<rect x="403.30" y="239.82" width="5.58" height="7.65" fill="#e6eff4"/>
<rect x="408.58" y="239.82" width="5.58" height="7.65" fill="#e17a61"/>
<rect x="413.86" y="239.82" width="5.58" height="7.65" fill="#f5ab8a"/>
<rect x="419.13" y="239.82" width="5.58" height="7.65" fill="#f5ab8a"/>
<rect x="424.41" y="239.82" width="5.58" height="7.65" fill="#fae7dc"/>
<rect x="429.69" y="239.82" width="5.58" height="7.65" fill="#66a9cf"/>
<rect x="434.97" y="239.82" width="5.58" height="7.65" fill="#dbeaf2"/>
<rect x="440.24" y="239.82" width="5.58" height="7.65" fill="#96c7df"/>
<rect x="445.52" y="239.82" width="5.58" height="7.65" fill="#b5d7e8"/>
<rect x="355.80" y="247.17" width="5.58" height="7.65" fill="#fae7dc"/>
<rect x="361.08" y="247.17" width="5.58" height="7.65" fill="#e6eff4"/>
<rect x="366.36" y="247.17" width="5.58" height="7.65" fill="#f7b99c"/>
<rect x="371.63" y="247.17" width="5.58" height="7.65" fill="#c7e0ed"/>
<rect x="376.91" y="247.17" width="5.58" height="7.65" fill="#ddebf2"/>
<rect x="382.19" y="247.17" width="5.58" height="7.65" fill="#a5cfe4"/>
<rect x="387.47" y="247.17" width="5.58" height="7.65" fill="#ddebf2"/>
<rect x="392.74" y="247.17" width="5.58" height="7.65" fill="#b5d7e8"/>
<rect x="398.02" y="247.17" width="5.58" height="7.65" fill="#c7e0ed"/>
<rect x="403.30" y="247.17" width="5.58" height="7.65" fill="#f0f4f6"/>
<rect x="408.58" y="247.17" width="5.58" height="7.65" fill="#c33b3b"/>
<rect x="413.86" y="247.17" width="5.58" height="7.65" fill="#fce2d3"/>
<rect x="419.13" y="247.17" width="5.58" height="7.65" fill="#fce2d3"/>
<rect x="424.41" y="247.17" width="5.58" height="7.65" fill="#f9ece5"/>
<rect x="429.69" y="247.17" width="5.58" height="7.65" fill="#529dc8"/>
<rect x="434.97" y="247.17" width="5.58" height="7.65" fill="#dbeaf2"/>
<rect x="440.24" y="247.17" width="5.58" height="7.65" fill="#b5d7e8"/>
<rect x="445.52" y="247.17" width="5.58" height="7.65" fill="#dbeaf2"/>
<rect x="355.80" y="254.52" width="5.58" height="7.65" fill="#f3a280"/>
<rect x="361.08" y="254.52" width="5.58" height="7.65" fill="#c7e0ed"/>
<rect x="366.36" y="254.52" width="5.58" height="7.65" fill="#b5d7e8"/>
<rect x="371.63" y="254.52" width="5.58" height="7.65" fill="#ddebf2"/>
<rect x="376.91" y="254.52" width="5.58" height="7.65" fill="#e58368"/>
<rect x="382.19" y="254.52" width="5.58" height="7.65" fill="#ddebf2"/>
<rect x="387.47" y="254.52" width="5.58" height="7.65" fill="#96c7df"/>
<rect x="392.74" y="254.52" width="5.58" height="7.65" fill="#ddebf2"/>
<rect x="398.02" y="254.52" width="5.58" height="7.65" fill="#d2e6f0"/>
<rect x="403.30" y="254.52" width="5.58" height="7.65" fill="#f0f4f6"/>
<rect x="408.58" y="254.52" width="5.58" height="7.65" fill="#f7b99c"/>
<rect x="413.86" y="254.52" width="5.58" height="7.65" fill="#fce2d3"/>
<rect x="419.13" y="254.52" width="5.58" height="7.65" fill="#f9ece5"/>
<rect x="424.41" y="254.52" width="5.58" height="7.65" fill="#f9ece5"/>
<rect x="429.69" y="254.52" width="5.58" height="7.65" fill="#8dc2dc"/>
<rect x="434.97" y="254.52" width="5.58" height="7.65" fill="#c7e0ed"/>
<rect x="440.24" y="254.52" width="5.58" height="7.65" fill="#d2e6f0"/>
<rect x="445.52" y="254.52" width="5.58" height="7.65" fill="#ddebf2"/>
<rect x="355.80" y="261.86" width="5.58" height="7.65" fill="#f3a280"/>
<rect x="361.08" y="261.86" width="5.58" height="7.65" fill="#c4deec"/>
<rect x="366.36" y="261.86" width="5.58" height="7.65" fill="#c4deec"/>
<rect x="371.63" y="261.86" width="5.58" height="7.65" fill="#dbeaf2"/>
<rect x="376.91" y="261.86" width="5.58" height="7.65" fill="#ddebf2"/>
<rect x="382.19" y="261.86" width="5.58" height="7.65" fill="#b5d7e8"/>
<rect x="387.47" y="261.86" width="5.58" height="7.65" fill="#e6eff4"/>
<rect x="392.74" y="261.86" width="5.58" height="7.65" fill="#70afd2"/>
<rect x="398.02" y="261.86" width="5.58" height="7.65" fill="#ddebf2"/>
<rect x="403.30" y="261.86" width="5.58" height="7.65" fill="#b92631"/>
<rect x="408.58" y="261.86" width="5.58" height="7.65" fill="#f4a785"/>
<rect x="413.86" y="261.86" width="5.58" height="7.65" fill="#fce2d3"/>
<rect x="419.13" y="261.86" width="5.58" height="7.65" fill="#f9ece5"/>
<rect x="424.41" y="261.86" width="5.58" height="7.65" fill="#fae7dc"/>
<rect x="429.69" y="261.86" width="5.58" height="7.65" fill="#dbeaf2"/>
<rect x="434.97" y="261.86" width="5.58" height="7.65" fill="#ddebf2"/>
<rect x="440.24" y="261.86" width="5.58" height="7.65" fill="#ddebf2"/>
<rect x="445.52" y="261.86" width="5.58" height="7.65" fill="#ddebf2"/>
<rect x="355.80" y="269.21" width="5.58" height="7.65" fill="#f6b090"/>
<rect x="361.08" y="269.21" width="5.58" height="7.65" fill="#fae7dc"/>
<rect x="366.36" y="269.21" width="5.58" height="7.65" fill="#e6eff4"/>
<rect x="371.63" y="269.21" width="5.58" height="7.65" fill="#c4deec"/>
<rect x="376.91" y="269.21" width="5.58" height="7.65" fill="#b5d7e8"/>
<rect x="382.19" y="269.21" width="5.58" height="7.65" fill="#fae7dc"/>
<rect x="387.47" y="269.21" width="5.58" height="7.65" fill="#fbccb4"/>
<rect x="392.74" y="269.21" width="5.58" height="7.65" fill="#5ca3cc"/>
<rect x="398.02" y="269.21" width="5.58" height="7.65" fill="#dbeaf2"/>
<rect x="403.30" y="269.21" width="5.58" height="7.65" fill="#f9c3a8"/>
<rect x="408.58" y="269.21" width="5.58" height="7.65" fill="#f6b090"/>
<rect x="413.86" y="269.21" width="5.58" height="7.65" fill="#f0f4f6"/>
<rect x="419.13" y="269.21" width="5.58" height="7.65" fill="#f9ece5"/>
<rect x="424.41" y="269.21" width="5.58" height="7.65" fill="#fce2d3"/>
<rect x="429.69" y="269.21" width="5.58" height="7.65" fill="#a5cfe4"/>
<rect x="434.97" y="269.21" width="5.58" height="7.65" fill="#dbeaf2"/>
<rect x="440.24" y="269.21" width="5.58" height="7.65" fill="#96c7df"/>
<rect x="445.52" y="269.21" width="5.58" height="7.65" fill="#ddebf2"/>
<rect x="355.80" y="276.56" width="5.58" height="7.65" fill="#f0f4f6"/>
<rect x="361.08" y="276.56" width="5.58" height="7.65" fill="#ddebf2"/>
<rect x="366.36" y="276.56" width="5.58" height="7.65" fill="#f7b99c"/>
<rect x="371.63" y="276.56" width="5.58" height="7.65" fill="#e6eff4"/>
<rect x="376.91" y="276.56" width="5.58" height="7.65" fill="#96c7df"/>
<rect x="382.19" y="276.56" width="5.58" height="7.65" fill="#dbeaf2"/>
<rect x="387.47" y="276.56" width="5.58" height="7.65" fill="#e6eff4"/>
<rect x="392.74" y="276.56" width="5.58" height="7.65" fill="#f9c3a8"/>
<rect x="398.02" y="276.56" width="5.58" height="7.65" fill="#dbeaf2"/>
<rect x="403.30" y="276.56" width="5.58" height="7.65" fill="#e6eff4"/>
<rect x="408.58" y="276.56" width="5.58" height="7.65" fill="#f0f4f6"/>
<rect x="413.86" y="276.56" width="5.58" height="7.65" fill="#ddebf2"/>
<rect x="419.13" y="276.56" width="5.58" height="7.65" fill="#fce2d3"/>
<rect x="424.41" y="276.56" width="5.58" height="7.65" fill="#f9c3a8"/>
<rect x="429.69" y="276.56" width="5.58" height="7.65" fill="#ddebf2"/>
<rect x="434.97" y="276.56" width="5.58" height="7.65" fill="#dbeaf2"/>
<rect x="440.24" y="276.56" width="5.58" height="7.65" fill="#4896c5"/>
<rect x="445.52" y="276.56" width="5.58" height="7.65" fill="#f7b99c"/>
<rect x="355.80" y="283.90" width="5.58" height="7.65" fill="#f0f4f6"/>
<rect x="361.08" y="283.90" width="5.58" height="7.65" fill="#b5d7e8"/>
<rect x="366.36" y="283.90" width="5.58" height="7.65" fill="#fce2d3"/>
<rect x="371.63" y="283.90" width="5.58" height="7.65" fill="#ddebf2"/>
<rect x="376.91" y="283.90" width="5.58" height="7.65" fill="#dbeaf2"/>
<rect x="382.19" y="283.90" width="5.58" height="7.65" fill="#96c7df"/>
<rect x="387.47" y="283.90" width="5.58" height="7.65" fill="#e6eff4"/>
<rect x="392.74" y="283.90" width="5.58" height="7.65" fill="#4896c5"/>
<rect x="398.02" y="283.90" width="5.58" height="7.65" fill="#ddebf2"/>
<rect x="403.30" y="283.90" width="5.58" height="7.65" fill="#e6eff4"/>
<rect x="408.58" y="283.90" width="5.58" height="7.65" fill="#fae7dc"/>
<rect x="413.86" y="283.90" width="5.58" height="7.65" fill="#ddebf2"/>
<rect x="419.13" y="283.90" width="5.58" height="7.65" fill="#f9c3a8"/>
<rect x="424.41" y="283.90" width="5.58" height="7.65" fill="#f9c3a8"/>
<rect x="429.69" y="283.90" width="5.58" height="7.65" fill="#ddebf2"/>
<rect x="434.97" y="283.90" width="5.58" height="7.65" fill="#dbeaf2"/>
<rect x="440.24" y="283.90" width="5.58" height="7.65" fill="#a5cfe4"/>
<rect x="445.52" y="283.90" width="5.58" height="7.65" fill="#f4a785"/>
<rect x="355.80" y="291.25" width="5.58" height="7.65" fill="#c7e0ed"/>
<rect x="361.08" y="291.25" width="5.58" height="7.65" fill="#b5d7e8"/>
<rect x="366.36" y="291.25" width="5.58" height="7.65" fill="#dbeaf2"/>
<rect x="371.63" y="291.25" width="5.58" height="7.65" fill="#ddebf2"/>
<rect x="376.91" y="291.25" width="5.58" height="7.65" fill="#fbccb4"/>
<rect x="382.19" y="291.25" width="5.58" height="7.65" fill="#e6eff4"/>
<rect x="387.47" y="291.25" width="5.58" height="7.65" fill="#f9c3a8"/>
<rect x="392.74" y="291.25" width="5.58" height="7.65" fill="#d2e6f0"/>
<rect x="398.02" y="291.25" width="5.58" height="7.65" fill="#e6eff4"/>
<rect x="403.30" y="291.25" width="5.58" height="7.65" fill="#ddebf2"/>
<rect x="408.58" y="291.25" width="5.58" height="7.65" fill="#ddebf2"/>
<rect x="413.86" y="291.25" width="5.58" height="7.65" fill="#96c7df"/>
<rect x="419.13" y="291.25" width="5.58" height="7.65" fill="#f3a280"/>
<rect x="424.41" y="291.25" width="5.58" height="7.65" fill="#ea8d70"/>
<rect x="429.69" y="291.25" width="5.58" height="7.65" fill="#f9c3a8"/>
<rect x="434.97" y="291.25" width="5.58" height="7.65" fill="#ddebf2"/>
<rect x="440.24" y="291.25" width="5.58" height="7.65" fill="#ddebf2"/>
<rect x="445.52" y="291.25" width="5.58" height="7.65" fill="#e6eff4"/>
<rect x="355.80" y="298.60" width="5.58" height="7.65" fill="#c4deec"/>
<rect x="361.08" y="298.60" width="5.58" height="7.65" fill="#b5d7e8"/>
<rect x="366.36" y="298.60" width="5.58" height="7.65" fill="#dbeaf2"/>
<rect x="371.63" y="298.60" width="5.58" height="7.65" fill="#d96651"/>
<rect x="376.91" y="298.60" width="5.58" height="7.65" fill="#e6eff4"/>
<rect x="382.19" y="298.60" width="5.58" height="7.65" fill="#e17a61"/>
<rect x="387.47" y="298.60" width="5.58" height="7.65" fill="#dbeaf2"/>
<rect x="392.74" y="298.60" width="5.58" height="7.65" fill="#ddebf2"/>
<rect x="398.02" y="298.60" width="5.58" height="7.65" fill="#fae7dc"/>
<rect x="403.30" y="298.60" width="5.58" height="7.65" fill="#a5cfe4"/>
<rect x="408.58" y="298.60" width="5.58" height="7.65" fill="#dbeaf2"/>
<rect x="413.86" y="298.60" width="5.58" height="7.65" fill="#b5d7e8"/>
<rect x="419.13" y="298.60" width="5.58" height="7.65" fill="#f9c3a8"/>
<rect x="424.41" y="298.60" width="5.58" height="7.65" fill="#fae7dc"/>
<rect x="429.69" y="298.60" width="5.58" height="7.65" fill="#e6eff4"/>
<rect x="434.97" y="298.60" width="5.58" height="7.65" fill="#ddebf2"/>
<rect x="440.24" y="298.60" width="5.58" height="7.65" fill="#ddebf2"/>
<rect x="445.52" y="298.60" width="5.58" height="7.65" fill="#ddebf2"/>
<rect x="355.80" y="305.95" width="5.58" height="7.65" fill="#c4deec"/>
<rect x="361.08" y="305.95" width="5.58" height="7.65" fill="#b5d7e8"/>
<rect x="366.36" y="305.95" width="5.58" height="7.65" fill="#fae7dc"/>
<rect x="371.63" y="305.95" width="5.58" height="7.65" fill="#f0f4f6"/>
<rect x="376.91" y="305.95" width="5.58" height="7.65" fill="#ddebf2"/>
<rect x="382.19" y="305.95" width="5.58" height="7.65" fill="#f9c3a8"/>
<rect x="387.47" y="305.95" width="5.58" height="7.65" fill="#e6eff4"/>
<rect x="392.74" y="305.95" width="5.58" height="7.65" fill="#f7b99c"/>
<rect x="398.02" y="305.95" width="5.58" height="7.65" fill="#d45b4b"/>
<rect x="403.30" y="305.95" width="5.58" height="7.65" fill="#dbeaf2"/>
<rect x="408.58" y="305.95" width="5.58" height="7.65" fill="#a5cfe4"/>
<rect x="413.86" y="305.95" width="5.58" height="7.65" fill="#96c7df"/>
<rect x="419.13" y="305.95" width="5.58" height="7.65" fill="#fae7dc"/>
<rect x="424.41" y="305.95" width="5.58" height="7.65" fill="#fce2d3"/>
<rect x="429.69" y="305.95" width="5.58" height="7.65" fill="#ddebf2"/>
<rect x="434.97" y="305.95" width="5.58" height="7.65" fill="#ddebf2"/>
<rect x="440.24" y="305.95" width="5.58" height="7.65" fill="#ddebf2"/>
<rect x="445.52" y="305.95" width="5.58" height="7.65" fill="#fae7dc"/>
<rect x="355.80" y="313.29" width="5.58" height="7.65" fill="#b5d7e8"/>
<rect x="361.08" y="313.29" width="5.58" height="7.65" fill="#dbeaf2"/>
<rect x="366.36" y="313.29" width="5.58" height="7.65" fill="#f0f4f6"/>
<rect x="371.63" y="313.29" width="5.58" height="7.65" fill="#fcd6c0"/>
<rect x="376.91" y="313.29" width="5.58" height="7.65" fill="#e6eff4"/>
<rect x="382.19" y="313.29" width="5.58" height="7.65" fill="#f6b090"/>
<rect x="387.47" y="313.29" width="5.58" height="7.65" fill="#ee9777"/>
<rect x="392.74" y="313.29" width="5.58" height="7.65" fill="#f09d7c"/>
<rect x="398.02" y="313.29" width="5.58" height="7.65" fill="#e6eff4"/>
<rect x="403.30" y="313.29" width="5.58" height="7.65" fill="#a5cfe4"/>
<rect x="408.58" y="313.29" width="5.58" height="7.65" fill="#c4deec"/>
<rect x="413.86" y="313.29" width="5.58" height="7.65" fill="#c4deec"/>
<rect x="419.13" y="313.29" width="5.58" height="7.65" fill="#f7b99c"/>
<rect x="424.41" y="313.29" width="5.58" height="7.65" fill="#fce2d3"/>
<rect x="429.69" y="313.29" width="5.58" height="7.65" fill="#ddebf2"/>
<rect x="434.97" y="313.29" width="5.58" height="7.65" fill="#fce2d3"/>
<rect x="440.24" y="313.29" width="5.58" height="7.65" fill="#fcd6c0"/>
<rect x="445.52" y="313.29" width="5.58" height="7.65" fill="#fae7dc"/>
<rect x="355.80" y="320.64" width="5.58" height="7.65" fill="#c4deec"/>
<rect x="361.08" y="320.64" width="5.58" height="7.65" fill="#fdddcb"/>
<rect x="366.36" y="320.64" width="5.58" height="7.65" fill="#b5d7e8"/>
<rect x="371.63" y="320.64" width="5.58" height="7.65" fill="#ddebf2"/>
<rect x="376.91" y="320.64" width="5.58" height="7.65" fill="#f6b090"/>
<rect x="382.19" y="320.64" width="5.58" height="7.65" fill="#fce2d3"/>
<rect x="387.47" y="320.64" width="5.58" height="7.65" fill="#e6eff4"/>
<rect x="392.74" y="320.64" width="5.58" height="7.65" fill="#e58368"/>
<rect x="398.02" y="320.64" width="5.58" height="7.65" fill="#ddebf2"/>
<rect x="403.30" y="320.64" width="5.58" height="7.65" fill="#96c7df"/>
<rect x="408.58" y="320.64" width="5.58" height="7.65" fill="#b5d7e8"/>
<rect x="413.86" y="320.64" width="5.58" height="7.65" fill="#b5d7e8"/>
<rect x="419.13" y="320.64" width="5.58" height="7.65" fill="#fae7dc"/>
<rect x="424.41" y="320.64" width="5.58" height="7.65" fill="#fae7dc"/>
<rect x="429.69" y="320.64" width="5.58" height="7.65" fill="#ddebf2"/>
<rect x="434.97" y="320.64" width="5.58" height="7.65" fill="#ddebf2"/>
<rect x="440.24" y="320.64" width="5.58" height="7.65" fill="#ea8d70"/>
<rect x="445.52" y="320.64" width="5.58" height="7.65" fill="#b5d7e8"/>
<rect x="355.80" y="327.99" width="5.58" height="7.65" fill="#66a9cf"/>
<rect x="361.08" y="327.99" width="5.58" height="7.65" fill="#e6eff4"/>
<rect x="366.36" y="327.99" width="5.58" height="7.65" fill="#b5d7e8"/>
<rect x="371.63" y="327.99" width="5.58" height="7.65" fill="#e6eff4"/>
<rect x="376.91" y="327.99" width="5.58" height="7.65" fill="#f3a280"/>
<rect x="382.19" y="327.99" width="5.58" height="7.65" fill="#c4deec"/>
<rect x="387.47" y="327.99" width="5.58" height="7.65" fill="#fdddcb"/>
<rect x="392.74" y="327.99" width="5.58" height="7.65" fill="#d96651"/>
<rect x="398.02" y="327.99" width="5.58" height="7.65" fill="#e6eff4"/>
<rect x="403.30" y="327.99" width="5.58" height="7.65" fill="#b5d7e8"/>
<rect x="408.58" y="327.99" width="5.58" height="7.65" fill="#96c7df"/>
<rect x="413.86" y="327.99" width="5.58" height="7.65" fill="#d2e6f0"/>
<rect x="419.13" y="327.99" width="5.58" height="7.65" fill="#f9ece5"/>
<rect x="424.41" y="327.99" width="5.58" height="7.65" fill="#f9ece5"/>
<rect x="429.69" y="327.99" width="5.58" height="7.65" fill="#ddebf2"/>
<rect x="434.97" y="327.99" width="5.58" height="7.65" fill="#fce2d3"/>
<rect x="440.24" y="327.99" width="5.58" height="7.65" fill="#f0f4f6"/>
<rect x="445.52" y="327.99" width="5.58" height="7.65" fill="#e6eff4"/>
<rect x="355.80" y="335.33" width="5.58" height="7.65" fill="#a5cfe4"/>
<rect x="361.08" y="335.33" width="5.58" height="7.65" fill="#b5d7e8"/>
<rect x="366.36" y="335.33" width="5.58" height="7.65" fill="#b5d7e8"/>
<rect x="371.63" y="335.33" width="5.58" height="7.65" fill="#ddebf2"/>
<rect x="376.91" y="335.33" width="5.58" height="7.65" fill="#dbeaf2"/>
<rect x="382.19" y="335.33" width="5.58" height="7.65" fill="#fbccb4"/>
<rect x="387.47" y="335.33" width="5.58" height="7.65" fill="#fcd6c0"/>
<rect x="392.74" y="335.33" width="5.58" height="7.65" fill="#ddebf2"/>
<rect x="398.02" y="335.33" width="5.58" height="7.65" fill="#f09d7c"/>
<rect x="403.30" y="335.33" width="5.58" height="7.65" fill="#b5d7e8"/>
<rect x="408.58" y="335.33" width="5.58" height="7.65" fill="#a5cfe4"/>
<rect x="413.86" y="335.33" width="5.58" height="7.65" fill="#96c7df"/>
<rect x="419.13" y="335.33" width="5.58" height="7.65" fill="#f9ece5"/>
<rect x="424.41" y="335.33" width="5.58" height="7.65" fill="#fae7dc"/>
<rect x="429.69" y="335.33" width="5.58" height="7.65" fill="#ddebf2"/>
<rect x="434.97" y="335.33" width="5.58" height="7.65" fill="#f7b99c"/>
<rect x="440.24" y="335.33" width="5.58" height="7.65" fill="#f6b090"/>
<rect x="445.52" y="335.33" width="5.58" height="7.65" fill="#fce2d3"/>
<rect x="355.80" y="342.68" width="5.58" height="7.65" fill="#a5cfe4"/>
<rect x="361.08" y="342.68" width="5.58" height="7.65" fill="#a5cfe4"/>
<rect x="366.36" y="342.68" width="5.58" height="7.65" fill="#b5d7e8"/>
<rect x="371.63" y="342.68" width="5.58" height="7.65" fill="#c7e0ed"/>
<rect x="376.91" y="342.68" width="5.58" height="7.65" fill="#fce2d3"/>
<rect x="382.19" y="342.68" width="5.58" height="7.65" fill="#fcd6c0"/>
<rect x="387.47" y="342.68" width="5.58" height="7.65" fill="#f0f4f6"/>
<rect x="392.74" y="342.68" width="5.58" height="7.65" fill="#e6eff4"/>
<rect x="398.02" y="342.68" width="5.58" height="7.65" fill="#dbeaf2"/>
<rect x="403.30" y="342.68" width="5.58" height="7.65" fill="#a5cfe4"/>
<rect x="408.58" y="342.68" width="5.58" height="7.65" fill="#b5d7e8"/>
<rect x="413.86" y="342.68" width="5.58" height="7.65" fill="#dbeaf2"/>
<rect x="419.13" y="342.68" width="5.58" height="7.65" fill="#f9ece5"/>
<rect x="424.41" y="342.68" width="5.58" height="7.65" fill="#f9ece5"/>
<rect x="429.69" y="342.68" width="5.58" height="7.65" fill="#ddebf2"/>
<rect x="434.97" y="342.68" width="5.58" height="7.65" fill="#ea8d70"/>
<rect x="440.24" y="342.68" width="5.58" height="7.65" fill="#f9c3a8"/>
<rect x="445.52" y="342.68" width="5.58" height="7.65" fill="#e6eff4"/>
<rect x="355.80" y="350.03" width="5.58" height="7.65" fill="#b5d7e8"/>
<rect x="361.08" y="350.03" width="5.58" height="7.65" fill="#b5d7e8"/>
<rect x="366.36" y="350.03" width="5.58" height="7.65" fill="#7ab6d6"/>
<rect x="371.63" y="350.03" width="5.58" height="7.65" fill="#ddebf2"/>
<rect x="376.91" y="350.03" width="5.58" height="7.65" fill="#dbeaf2"/>
<rect x="382.19" y="350.03" width="5.58" height="7.65" fill="#e6eff4"/>
<rect x="387.47" y="350.03" width="5.58" height="7.65" fill="#f3a280"/>
<rect x="392.74" y="350.03" width="5.58" height="7.65" fill="#ee9777"/>
<rect x="398.02" y="350.03" width="5.58" height="7.65" fill="#f0f4f6"/>
<rect x="403.30" y="350.03" width="5.58" height="7.65" fill="#a5cfe4"/>
<rect x="408.58" y="350.03" width="5.58" height="7.65" fill="#c4deec"/>
<rect x="413.86" y="350.03" width="5.58" height="7.65" fill="#d2e6f0"/>
<rect x="419.13" y="350.03" width="5.58" height="7.65" fill="#f9ece5"/>
<rect x="424.41" y="350.03" width="5.58" height="7.65" fill="#fae7dc"/>
<rect x="429.69" y="350.03" width="5.58" height="7.65" fill="#dbeaf2"/>
<rect x="434.97" y="350.03" width="5.58" height="7.65" fill="#fce2d3"/>
<rect x="440.24" y="350.03" width="5.58" height="7.65" fill="#f3a280"/>
<rect x="445.52" y="350.03" width="5.58" height="7.65" fill="#dbeaf2"/>
<rect x="355.80" y="357.38" width="5.58" height="7.65" fill="#fae7dc"/>
<rect x="361.08" y="357.38" width="5.58" height="7.65" fill="#96c7df"/>
<rect x="366.36" y="357.38" width="5.58" height="7.65" fill="#fae7dc"/>
<rect x="371.63" y="357.38" width="5.58" height="7.65" fill="#b5d7e8"/>
<rect x="376.91" y="357.38" width="5.58" height="7.65" fill="#fae7dc"/>
<rect x="382.19" y="357.38" width="5.58" height="7.65" fill="#8dc2dc"/>
<rect x="387.47" y="357.38" width="5.58" height="7.65" fill="#fce2d3"/>
<rect x="392.74" y="357.38" width="5.58" height="7.65" fill="#fcd6c0"/>
<rect x="398.02" y="357.38" width="5.58" height="7.65" fill="#d96651"/>
<rect x="403.30" y="357.38" width="5.58" height="7.65" fill="#b5d7e8"/>
<rect x="408.58" y="357.38" width="5.58" height="7.65" fill="#ddebf2"/>
<rect x="413.86" y="357.38" width="5.58" height="7.65" fill="#a5cfe4"/>
<rect x="419.13" y="357.38" width="5.58" height="7.65" fill="#fae7dc"/>
<rect x="424.41" y="357.38" width="5.58" height="7.65" fill="#96c7df"/>
<rect x="429.69" y="357.38" width="5.58" height="7.65" fill="#96c7df"/>
<rect x="434.97" y="357.38" width="5.58" height="7.65" fill="#f0f4f6"/>
<rect x="440.24" y="357.38" width="5.58" height="7.65" fill="#fae7dc"/>
<rect x="445.52" y="357.38" width="5.58" height="7.65" fill="#e6eff4"/>
<rect x="355.80" y="364.72" width="5.58" height="7.65" fill="#a5cfe4"/>
<rect x="361.08" y="364.72" width="5.58" height="7.65" fill="#fce2d3"/>
<rect x="366.36" y="364.72" width="5.58" height="7.65" fill="#b5d7e8"/>
<rect x="371.63" y="364.72" width="5.58" height="7.65" fill="#fae7dc"/>
<rect x="376.91" y="364.72" width="5.58" height="7.65" fill="#b5d7e8"/>
<rect x="382.19" y="364.72" width="5.58" height="7.65" fill="#e6eff4"/>
<rect x="387.47" y="364.72" width="5.58" height="7.65" fill="#f0f4f6"/>
<rect x="392.74" y="364.72" width="5.58" height="7.65" fill="#f09d7c"/>
<rect x="398.02" y="364.72" width="5.58" height="7.65" fill="#f0f4f6"/>
<rect x="403.30" y="364.72" width="5.58" height="7.65" fill="#b5d7e8"/>
<rect x="408.58" y="364.72" width="5.58" height="7.65" fill="#e6eff4"/>
<rect x="413.86" y="364.72" width="5.58" height="7.65" fill="#70afd2"/>
<rect x="419.13" y="364.72" width="5.58" height="7.65" fill="#f9ece5"/>
<rect x="424.41" y="364.72" width="5.58" height="7.65" fill="#fae7dc"/>
<rect x="429.69" y="364.72" width="5.58" height="7.65" fill="#e6eff4"/>
<rect x="434.97" y="364.72" width="5.58" height="7.65" fill="#dd7059"/>
<rect x="440.24" y="364.72" width="5.58" height="7.65" fill="#fae7dc"/>
<rect x="445.52" y="364.72" width="5.58" height="7.65" fill="#e6eff4"/>
<rect x="355.80" y="372.07" width="5.58" height="7.65" fill="#a5cfe4"/>
<rect x="361.08" y="372.07" width="5.58" height="7.65" fill="#fae7dc"/>
<rect x="366.36" y="372.07" width="5.58" height="7.65" fill="#b5d7e8"/>
<rect x="371.63" y="372.07" width="5.58" height="7.65" fill="#e6eff4"/>
<rect x="376.91" y="372.07" width="5.58" height="7.65" fill="#b5d7e8"/>
<rect x="382.19" y="372.07" width="5.58" height="7.65" fill="#e6eff4"/>
<rect x="387.47" y="372.07" width="5.58" height="7.65" fill="#fae7dc"/>
<rect x="392.74" y="372.07" width="5.58" height="7.65" fill="#f7b99c"/>
<rect x="398.02" y="372.07" width="5.58" height="7.65" fill="#f0f4f6"/>
<rect x="403.30" y="372.07" width="5.58" height="7.65" fill="#b5d7e8"/>
<rect x="408.58" y="372.07" width="5.58" height="7.65" fill="#c4deec"/>
<rect x="413.86" y="372.07" width="5.58" height="7.65" fill="#8dc2dc"/>
<rect x="419.13" y="372.07" width="5.58" height="7.65" fill="#fae7dc"/>
<rect x="424.41" y="372.07" width="5.58" height="7.65" fill="#fae7dc"/>
<rect x="429.69" y="372.07" width="5.58" height="7.65" fill="#ddebf2"/>
<rect x="434.97" y="372.07" width="5.58" height="7.65" fill="#c33b3b"/>
<rect x="440.24" y="372.07" width="5.58" height="7.65" fill="#fce2d3"/>
<rect x="445.52" y="372.07" width="5.58" height="7.65" fill="#e6eff4"/>
<rect x="355.80" y="379.42" width="5.58" height="7.65" fill="#e6eff4"/>
<rect x="361.08" y="379.42" width="5.58" height="7.65" fill="#d2e6f0"/>
<rect x="366.36" y="379.42" width="5.58" height="7.65" fill="#a5cfe4"/>
<rect x="371.63" y="379.42" width="5.58" height="7.65" fill="#ddebf2"/>
<rect x="376.91" y="379.42" width="5.58" height="7.65" fill="#96c7df"/>
<rect x="382.19" y="379.42" width="5.58" height="7.65" fill="#e6eff4"/>
<rect x="387.47" y="379.42" width="5.58" height="7.65" fill="#f7b99c"/>
<rect x="392.74" y="379.42" width="5.58" height="7.65" fill="#f9c3a8"/>
<rect x="398.02" y="379.42" width="5.58" height="7.65" fill="#f7b99c"/>
<rect x="403.30" y="379.42" width="5.58" height="7.65" fill="#70afd2"/>
<rect x="408.58" y="379.42" width="5.58" height="7.65" fill="#dbeaf2"/>
<rect x="413.86" y="379.42" width="5.58" height="7.65" fill="#e6eff4"/>
<rect x="419.13" y="379.42" width="5.58" height="7.65" fill="#f9ece5"/>
<rect x="424.41" y="379.42" width="5.58" height="7.65" fill="#dbeaf2"/>
<rect x="429.69" y="379.42" width="5.58" height="7.65" fill="#b5d7e8"/>
<rect x="434.97" y="379.42" width="5.58" height="7.65" fill="#ce5046"/>
<rect x="440.24" y="379.42" width="5.58" height="7.65" fill="#fdddcb"/>
<rect x="445.52" y="379.42" width="5.58" height="7.65" fill="#dbeaf2"/>
<rect x="355.80" y="386.76" width="5.58" height="7.65" fill="#dbeaf2"/>
<rect x="361.08" y="386.76" width="5.58" height="7.65" fill="#f4a785"/>
<rect x="366.36" y="386.76" width="5.58" height="7.65" fill="#f5ab8a"/>
<rect x="371.63" y="386.76" width="5.58" height="7.65" fill="#ddebf2"/>
<rect x="376.91" y="386.76" width="5.58" height="7.65" fill="#96c7df"/>
<rect x="382.19" y="386.76" width="5.58" height="7.65" fill="#f0f4f6"/>
<rect x="387.47" y="386.76" width="5.58" height="7.65" fill="#dbeaf2"/>
<rect x="392.74" y="386.76" width="5.58" height="7.65" fill="#e6eff4"/>
<rect x="398.02" y="386.76" width="5.58" height="7.65" fill="#e6eff4"/>
<rect x="403.30" y="386.76" width="5.58" height="7.65" fill="#c4deec"/>
<rect x="408.58" y="386.76" width="5.58" height="7.65" fill="#ea8d70"/>
<rect x="413.86" y="386.76" width="5.58" height="7.65" fill="#dbeaf2"/>
<rect x="419.13" y="386.76" width="5.58" height="7.65" fill="#f9ece5"/>
<rect x="424.41" y="386.76" width="5.58" height="7.65" fill="#fae7dc"/>
<rect x="429.69" y="386.76" width="5.58" height="7.65" fill="#b5d7e8"/>
<rect x="434.97" y="386.76" width="5.58" height="7.65" fill="#66a9cf"/>
<rect x="440.24" y="386.76" width="5.58" height="7.65" fill="#fbccb4"/>
<rect x="445.52" y="386.76" width="5.58" height="7.65" fill="#ddebf2"/>
<rect x="355.80" y="394.11" width="5.58" height="7.65" fill="#c4deec"/>
<rect x="361.08" y="394.11" width="5.58" height="7.65" fill="#f3a280"/>
<rect x="366.36" y="394.11" width="5.58" height="7.65" fill="#f3a280"/>
<rect x="371.63" y="394.11" width="5.58" height="7.65" fill="#e6eff4"/>
<rect x="376.91" y="394.11" width="5.58" height="7.65" fill="#b5d7e8"/>
<rect x="382.19" y="394.11" width="5.58" height="7.65" fill="#e6eff4"/>
<rect x="387.47" y="394.11" width="5.58" height="7.65" fill="#dbeaf2"/>
<rect x="392.74" y="394.11" width="5.58" height="7.65" fill="#e6eff4"/>
<rect x="398.02" y="394.11" width="5.58" height="7.65" fill="#e6eff4"/>
<rect x="403.30" y="394.11" width="5.58" height="7.65" fill="#c4deec"/>
<rect x="408.58" y="394.11" width="5.58" height="7.65" fill="#ce5046"/>
<rect x="413.86" y="394.11" width="5.58" height="7.65" fill="#dbeaf2"/>
<rect x="419.13" y="394.11" width="5.58" height="7.65" fill="#fce2d3"/>
<rect x="424.41" y="394.11" width="5.58" height="7.65" fill="#f9ece5"/>
<rect x="429.69" y="394.11" width="5.58" height="7.65" fill="#c4deec"/>
<rect x="434.97" y="394.11" width="5.58" height="7.65" fill="#f0f4f6"/>
<rect x="440.24" y="394.11" width="5.58" height="7.65" fill="#fcd6c0"/>
<rect x="445.52" y="394.11" width="5.58" height="7.65" fill="#a5cfe4"/>
<rect x="355.80" y="401.46" width="5.58" height="7.65" fill="#dbeaf2"/>
<rect x="361.08" y="401.46" width="5.58" height="7.65" fill="#8dc2dc"/>
<rect x="366.36" y="401.46" width="5.58" height="7.65" fill="#e6eff4"/>
<rect x="371.63" y="401.46" width="5.58" height="7.65" fill="#b5d7e8"/>
<rect x="376.91" y="401.46" width="5.58" height="7.65" fill="#b5d7e8"/>
<rect x="382.19" y="401.46" width="5.58" height="7.65" fill="#f5ab8a"/>
<rect x="387.47" y="401.46" width="5.58" height="7.65" fill="#b5d7e8"/>
<rect x="392.74" y="401.46" width="5.58" height="7.65" fill="#f6b090"/>
<rect x="398.02" y="401.46" width="5.58" height="7.65" fill="#ddebf2"/>
<rect x="403.30" y="401.46" width="5.58" height="7.65" fill="#c7e0ed"/>
<rect x="408.58" y="401.46" width="5.58" height="7.65" fill="#f3a280"/>
<rect x="413.86" y="401.46" width="5.58" height="7.65" fill="#e58368"/>
<rect x="419.13" y="401.46" width="5.58" height="7.65" fill="#fae7dc"/>
<rect x="424.41" y="401.46" width="5.58" height="7.65" fill="#f9ece5"/>
<rect x="429.69" y="401.46" width="5.58" height="7.65" fill="#ddebf2"/>
<rect x="434.97" y="401.46" width="5.58" height="7.65" fill="#f0f4f6"/>
<rect x="440.24" y="401.46" width="5.58" height="7.65" fill="#96c7df"/>
<rect x="445.52" y="401.46" width="5.58" height="7.65" fill="#ddebf2"/>
<rect x="355.80" y="408.80" width="5.58" height="7.65" fill="#ddebf2"/>
<rect x="361.08" y="408.80" width="5.58" height="7.65" fill="#96c7df"/>
<rect x="366.36" y="408.80" width="5.58" height="7.65" fill="#e6eff4"/>
<rect x="371.63" y="408.80" width="5.58" height="7.65" fill="#a5cfe4"/>
<rect x="376.91" y="408.80" width="5.58" height="7.65" fill="#e6eff4"/>
<rect x="382.19" y="408.80" width="5.58" height="7.65" fill="#fae7dc"/>
<rect x="387.47" y="408.80" width="5.58" height="7.65" fill="#b5d7e8"/>
<rect x="392.74" y="408.80" width="5.58" height="7.65" fill="#d96651"/>
<rect x="398.02" y="408.80" width="5.58" height="7.65" fill="#e6eff4"/>
<rect x="403.30" y="408.80" width="5.58" height="7.65" fill="#fae7dc"/>
<rect x="408.58" y="408.80" width="5.58" height="7.65" fill="#ee9777"/>
<rect x="413.86" y="408.80" width="5.58" height="7.65" fill="#e6eff4"/>
<rect x="419.13" y="408.80" width="5.58" height="7.65" fill="#c4deec"/>
<rect x="424.41" y="408.80" width="5.58" height="7.65" fill="#fce2d3"/>
<rect x="429.69" y="408.80" width="5.58" height="7.65" fill="#fae7dc"/>
<rect x="434.97" y="408.80" width="5.58" height="7.65" fill="#fcd6c0"/>
<rect x="440.24" y="408.80" width="5.58" height="7.65" fill="#fcd6c0"/>
<rect x="445.52" y="408.80" width="5.58" height="7.65" fill="#b5d7e8"/>
<rect x="355.80" y="416.15" width="5.58" height="7.65" fill="#c4deec"/>
<rect x="361.08" y="416.15" width="5.58" height="7.65" fill="#fcd6c0"/>
<rect x="366.36" y="416.15" width="5.58" height="7.65" fill="#fce2d3"/>
<rect x="371.63" y="416.15" width="5.58" height="7.65" fill="#fae7dc"/>
<rect x="376.91" y="416.15" width="5.58" height="7.65" fill="#c4deec"/>
<rect x="382.19" y="416.15" width="5.58" height="7.65" fill="#e6eff4"/>
<rect x="387.47" y="416.15" width="5.58" height="7.65" fill="#c4deec"/>
<rect x="392.74" y="416.15" width="5.58" height="7.65" fill="#e6eff4"/>
<rect x="398.02" y="416.15" width="5.58" height="7.65" fill="#e6eff4"/>
<rect x="403.30" y="416.15" width="5.58" height="7.65" fill="#e6eff4"/>
<rect x="408.58" y="416.15" width="5.58" height="7.65" fill="#e6eff4"/>
<rect x="413.86" y="416.15" width="5.58" height="7.65" fill="#529dc8"/>
<rect x="419.13" y="416.15" width="5.58" height="7.65" fill="#dbeaf2"/>
<rect x="424.41" y="416.15" width="5.58" height="7.65" fill="#dd7059"/>
<rect x="429.69" y="416.15" width="5.58" height="7.65" fill="#e6eff4"/>
<rect x="434.97" y="416.15" width="5.58" height="7.65" fill="#f7b99c"/>
<rect x="440.24" y="416.15" width="5.58" height="7.65" fill="#fce2d3"/>
<rect x="445.52" y="416.15" width="5.58" height="7.65" fill="#7ab6d6"/>
<rect x="355.80" y="423.50" width="5.58" height="7.65" fill="#dbeaf2"/>
<rect x="361.08" y="423.50" width="5.58" height="7.65" fill="#c4deec"/>
<rect x="366.36" y="423.50" width="5.58" height="7.65" fill="#b5d7e8"/>
<rect x="371.63" y="423.50" width="5.58" height="7.65" fill="#e6eff4"/>
<rect x="376.91" y="423.50" width="5.58" height="7.65" fill="#4896c5"/>
<rect x="382.19" y="423.50" width="5.58" height="7.65" fill="#f09d7c"/>
<rect x="387.47" y="423.50" width="5.58" height="7.65" fill="#ddebf2"/>
<rect x="392.74" y="423.50" width="5.58" height="7.65" fill="#e6eff4"/>
<rect x="398.02" y="423.50" width="5.58" height="7.65" fill="#ddebf2"/>
<rect x="403.30" y="423.50" width="5.58" height="7.65" fill="#f0f4f6"/>
<rect x="408.58" y="423.50" width="5.58" height="7.65" fill="#f6b090"/>
<rect x="413.86" y="423.50" width="5.58" height="7.65" fill="#dbeaf2"/>
<rect x="419.13" y="423.50" width="5.58" height="7.65" fill="#fae7dc"/>
<rect x="424.41" y="423.50" width="5.58" height="7.65" fill="#fae7dc"/>
<rect x="429.69" y="423.50" width="5.58" height="7.65" fill="#ddebf2"/>
<rect x="434.97" y="423.50" width="5.58" height="7.65" fill="#f3a280"/>
<rect x="440.24" y="423.50" width="5.58" height="7.65" fill="#ddebf2"/>
<rect x="445.52" y="423.50" width="5.58" height="7.65" fill="#dbeaf2"/>
<rect x="355.80" y="430.85" width="5.58" height="7.65" fill="#dbeaf2"/>
<rect x="361.08" y="430.85" width="5.58" height="7.65" fill="#e6eff4"/>
<rect x="366.36" y="430.85" width="5.58" height="7.65" fill="#fdddcb"/>
<rect x="371.63" y="430.85" width="5.58" height="7.65" fill="#e6eff4"/>
<rect x="376.91" y="430.85" width="5.58" height="7.65" fill="#66a9cf"/>
<rect x="382.19" y="430.85" width="5.58" height="7.65" fill="#f0f4f6"/>
<rect x="387.47" y="430.85" width="5.58" height="7.65" fill="#b5d7e8"/>
<rect x="392.74" y="430.85" width="5.58" height="7.65" fill="#c7e0ed"/>
<rect x="398.02" y="430.85" width="5.58" height="7.65" fill="#e6eff4"/>
<rect x="403.30" y="430.85" width="5.58" height="7.65" fill="#ddebf2"/>
<rect x="408.58" y="430.85" width="5.58" height="7.65" fill="#f9c3a8"/>
<rect x="413.86" y="430.85" width="5.58" height="7.65" fill="#c7e0ed"/>
<rect x="419.13" y="430.85" width="5.58" height="7.65" fill="#d2e6f0"/>
<rect x="424.41" y="430.85" width="5.58" height="7.65" fill="#dbeaf2"/>
<rect x="429.69" y="430.85" width="5.58" height="7.65" fill="#f0f4f6"/>
<rect x="434.97" y="430.85" width="5.58" height="7.65" fill="#c94641"/>
<rect x="440.24" y="430.85" width="5.58" height="7.65" fill="#f0f4f6"/>
<rect x="445.52" y="430.85" width="5.58" height="7.65" fill="#ddebf2"/>
<rect x="355.80" y="438.19" width="5.58" height="7.65" fill="#fae7dc"/>
<rect x="361.08" y="438.19" width="5.58" height="7.65" fill="#e6eff4"/>
<rect x="366.36" y="438.19" width="5.58" height="7.65" fill="#ddebf2"/>
<rect x="371.63" y="438.19" width="5.58" height="7.65" fill="#e6eff4"/>
<rect x="376.91" y="438.19" width="5.58" height="7.65" fill="#dbeaf2"/>
<rect x="382.19" y="438.19" width="5.58" height="7.65" fill="#c94641"/>
<rect x="387.47" y="438.19" width="5.58" height="7.65" fill="#ddebf2"/>
<rect x="392.74" y="438.19" width="5.58" height="7.65" fill="#fae7dc"/>
<rect x="398.02" y="438.19" width="5.58" height="7.65" fill="#c4deec"/>
<rect x="403.30" y="438.19" width="5.58" height="7.65" fill="#b5d7e8"/>
<rect x="408.58" y="438.19" width="5.58" height="7.65" fill="#f0f4f6"/>
<rect x="413.86" y="438.19" width="5.58" height="7.65" fill="#fae7dc"/>
<rect x="419.13" y="438.19" width="5.58" height="7.65" fill="#66a9cf"/>
<rect x="424.41" y="438.19" width="5.58" height="7.65" fill="#fae7dc"/>
<rect x="429.69" y="438.19" width="5.58" height="7.65" fill="#d96651"/>
<rect x="434.97" y="438.19" width="5.58" height="7.65" fill="#fae7dc"/>
<rect x="440.24" y="438.19" width="5.58" height="7.65" fill="#e6eff4"/>
<rect x="445.52" y="438.19" width="5.58" height="7.65" fill="#c4deec"/>
<text x="454.5" y="180.27349999999998" font-size="6.5" fill="#b5122b" text-anchor="start" font-weight="bold"  >S1P</text>
<text x="454.5" y="187.6205" font-size="6.35" fill="#2a2a2a" text-anchor="start" font-weight="normal" stroke="#2a2a2a" stroke-width="0.06" >Sphinganine 1P</text>
<text x="454.5" y="194.96749999999997" font-size="6.35" fill="#2a2a2a" text-anchor="start" font-weight="normal" stroke="#2a2a2a" stroke-width="0.06" >ATP</text>
<text x="454.5" y="202.31449999999998" font-size="6.35" fill="#2a2a2a" text-anchor="start" font-weight="normal" stroke="#2a2a2a" stroke-width="0.06" >Fructose BP</text>
<text x="454.5" y="209.6615" font-size="6.35" fill="#2a2a2a" text-anchor="start" font-weight="normal" stroke="#2a2a2a" stroke-width="0.06" >GDP</text>
<text x="454.5" y="217.0085" font-size="6.35" fill="#2a2a2a" text-anchor="start" font-weight="normal" stroke="#2a2a2a" stroke-width="0.06" >L-glutamine</text>
<text x="454.5" y="224.35549999999998" font-size="6.35" fill="#2a2a2a" text-anchor="start" font-weight="normal" stroke="#2a2a2a" stroke-width="0.06" >5-Hydroxyisourate</text>
<text x="454.5" y="231.7025" font-size="6.35" fill="#2a2a2a" text-anchor="start" font-weight="normal" stroke="#2a2a2a" stroke-width="0.06" >AcCa (C2)</text>
<text x="454.5" y="239.0495" font-size="6.35" fill="#2a2a2a" text-anchor="start" font-weight="normal" stroke="#2a2a2a" stroke-width="0.06" >AcCa (C4 DC)</text>
<text x="454.5" y="246.39649999999997" font-size="6.35" fill="#2a2a2a" text-anchor="start" font-weight="normal" stroke="#2a2a2a" stroke-width="0.06" >UDP-glucose</text>
<text x="454.5" y="253.74349999999998" font-size="6.35" fill="#2a2a2a" text-anchor="start" font-weight="normal" stroke="#2a2a2a" stroke-width="0.06" >GSSG</text>
<text x="454.5" y="261.09049999999996" font-size="6.35" fill="#2a2a2a" text-anchor="start" font-weight="normal" stroke="#2a2a2a" stroke-width="0.06" >NAD+</text>
<text x="454.5" y="268.43749999999994" font-size="6.35" fill="#2a2a2a" text-anchor="start" font-weight="normal" stroke="#2a2a2a" stroke-width="0.06" >IMP</text>
<text x="454.5" y="275.7845" font-size="6.35" fill="#2a2a2a" text-anchor="start" font-weight="normal" stroke="#2a2a2a" stroke-width="0.06" >AcCa (C4)</text>
<text x="454.5" y="283.13149999999996" font-size="6.35" fill="#2a2a2a" text-anchor="start" font-weight="normal" stroke="#2a2a2a" stroke-width="0.06" >Phosphonooxypyruvate</text>
<text x="454.5" y="290.47849999999994" font-size="6.35" fill="#2a2a2a" text-anchor="start" font-weight="normal" stroke="#2a2a2a" stroke-width="0.06" >Hexos P</text>
<text x="454.5" y="297.8255" font-size="6.35" fill="#2a2a2a" text-anchor="start" font-weight="normal" stroke="#2a2a2a" stroke-width="0.06" >Maltose</text>
<text x="454.5" y="305.17249999999996" font-size="6.35" fill="#2a2a2a" text-anchor="start" font-weight="normal" stroke="#2a2a2a" stroke-width="0.06" >AcCa (CD OH)</text>
<text x="454.5" y="312.5195" font-size="6.35" fill="#2a2a2a" text-anchor="start" font-weight="normal" stroke="#2a2a2a" stroke-width="0.06" >AcCa (C6 DC)</text>
<text x="454.5" y="319.8665" font-size="6.35" fill="#2a2a2a" text-anchor="start" font-weight="normal" stroke="#2a2a2a" stroke-width="0.06" >2-Hydroxyglutarate</text>
<text x="454.5" y="327.21349999999995" font-size="6.35" fill="#2a2a2a" text-anchor="start" font-weight="normal" stroke="#2a2a2a" stroke-width="0.06" >Ribose P</text>
<text x="454.5" y="334.56049999999993" font-size="6.35" fill="#2a2a2a" text-anchor="start" font-weight="normal" stroke="#2a2a2a" stroke-width="0.06" >Allantoate</text>
<text x="454.5" y="341.90749999999997" font-size="6.35" fill="#2a2a2a" text-anchor="start" font-weight="normal" stroke="#2a2a2a" stroke-width="0.06" >Diphosphate</text>
<text x="454.5" y="349.2545" font-size="6.35" fill="#2a2a2a" text-anchor="start" font-weight="normal" stroke="#2a2a2a" stroke-width="0.06" >AcCa (C10)</text>
<text x="454.5" y="356.6015" font-size="6.35" fill="#2a2a2a" text-anchor="start" font-weight="normal" stroke="#2a2a2a" stroke-width="0.06" >Fa 10:0</text>
<text x="454.5" y="363.94849999999997" font-size="6.35" fill="#2a2a2a" text-anchor="start" font-weight="normal" stroke="#2a2a2a" stroke-width="0.06" >Glucosamine</text>
<text x="454.5" y="371.29549999999995" font-size="6.35" fill="#2a2a2a" text-anchor="start" font-weight="normal" stroke="#2a2a2a" stroke-width="0.06" >L-proline</text>
<text x="454.5" y="378.6424999999999" font-size="6.35" fill="#2a2a2a" text-anchor="start" font-weight="normal" stroke="#2a2a2a" stroke-width="0.06" >Cytosine</text>
<text x="454.5" y="385.98949999999996" font-size="6.35" fill="#2a2a2a" text-anchor="start" font-weight="normal" stroke="#2a2a2a" stroke-width="0.06" >Inosine</text>
<text x="454.5" y="393.3365" font-size="6.35" fill="#2a2a2a" text-anchor="start" font-weight="normal" stroke="#2a2a2a" stroke-width="0.06" >Allantoin</text>
<text x="454.5" y="400.6835" font-size="6.35" fill="#2a2a2a" text-anchor="start" font-weight="normal" stroke="#2a2a2a" stroke-width="0.06" >Creatinine</text>
<text x="454.5" y="408.03049999999996" font-size="6.35" fill="#2a2a2a" text-anchor="start" font-weight="normal" stroke="#2a2a2a" stroke-width="0.06" >D-Glucosamine</text>
<text x="454.5" y="415.37749999999994" font-size="6.35" fill="#2a2a2a" text-anchor="start" font-weight="normal" stroke="#2a2a2a" stroke-width="0.06" >AcCa (C3)</text>
<text x="454.5" y="422.7245" font-size="6.35" fill="#2a2a2a" text-anchor="start" font-weight="normal" stroke="#2a2a2a" stroke-width="0.06" >L-threonine</text>
<text x="454.5" y="430.07149999999996" font-size="6.35" fill="#2a2a2a" text-anchor="start" font-weight="normal" stroke="#2a2a2a" stroke-width="0.06" >L-alanine</text>
<text x="454.5" y="437.4185" font-size="6.35" fill="#2a2a2a" text-anchor="start" font-weight="normal" stroke="#2a2a2a" stroke-width="0.06" >Hydroxyproline</text>
<text x="454.5" y="444.7655" font-size="6.35" fill="#2a2a2a" text-anchor="start" font-weight="normal" stroke="#2a2a2a" stroke-width="0.06" >AcCa (C14)</text>
<text x="172.7" y="148.7" font-size="8.85" fill="#3a3a3a" text-anchor="start" font-weight="normal" stroke="#3a3a3a" stroke-width="0.05" >C57BL/6 (good storer)</text>
<rect x="166.2" y="153.5" width="48.0" height="6.2" fill="#1f4e8c"/>
<rect x="216.5" y="153.5" width="47.69999999999999" height="6.2" fill="#c8102e"/>
<text x="190.2" y="158.6" font-size="5.5" fill="#dde" text-anchor="middle" font-weight="normal" stroke="#dde" stroke-width="0.1" >–</text>
<text x="240.35" y="158.8" font-size="5.5" fill="#fdd" text-anchor="middle" font-weight="normal" stroke="#fdd" stroke-width="0.1" >+</text>
<path d="M168.7,170.6 L214.2,162.4 L214.2,170.6 Z" fill="#c4c4c6"/>
<path d="M219.0,170.6 L263.7,162.4 L263.7,170.6 Z" fill="#c4c4c6"/>
<text x="272.5" y="159.8" font-size="8.95" fill="#222" text-anchor="start" font-weight="normal" stroke="#222" stroke-width="0.1" >S1P</text>
<text x="265.8" y="171.3" font-size="8.5" fill="#222" text-anchor="start" font-weight="normal" stroke="#222" stroke-width="0.1" >Storage</text>
<text x="371.5" y="148.7" font-size="8.5" fill="#3a3a3a" text-anchor="start" font-weight="normal" stroke="#3a3a3a" stroke-width="0.05" >FVB (poor storer)</text>
<rect x="354.2" y="153.5" width="47.400000000000034" height="6.2" fill="#1f4e8c"/>
<rect x="404.5" y="153.5" width="47.30000000000001" height="6.2" fill="#c8102e"/>
<text x="377.9" y="158.6" font-size="5.5" fill="#dde" text-anchor="middle" font-weight="normal" stroke="#dde" stroke-width="0.1" >–</text>
<text x="428.15" y="158.8" font-size="5.5" fill="#fdd" text-anchor="middle" font-weight="normal" stroke="#fdd" stroke-width="0.1" >+</text>
<path d="M356.7,170.6 L401.6,162.4 L401.6,170.6 Z" fill="#c4c4c6"/>
<path d="M407.0,170.6 L451.3,162.4 L451.3,170.6 Z" fill="#c4c4c6"/>
<text x="461.2" y="159.8" font-size="8.95" fill="#222" text-anchor="start" font-weight="normal" stroke="#222" stroke-width="0.1" >S1P</text>
<text x="454.2" y="171.3" font-size="8.5" fill="#222" text-anchor="start" font-weight="normal" stroke="#222" stroke-width="0.1" >Storage</text>
<line x1="158.4" y1="195.9" x2="158.4" y2="372" stroke="#333" stroke-width="0.8"/>
<line x1="158.4" y1="195.9" x2="167.4" y2="195.9" stroke="#333" stroke-width="0.8"/>
<line x1="158.4" y1="372" x2="160.5" y2="372" stroke="#333" stroke-width="0.8"/>
<line x1="160.5" y1="305" x2="160.5" y2="441" stroke="#333" stroke-width="0.8"/>
<line x1="160.5" y1="305" x2="166.3" y2="305" stroke="#333" stroke-width="0.8"/>
<line x1="166.3" y1="271.7" x2="166.3" y2="338" stroke="#333" stroke-width="0.8"/>
<line x1="160.5" y1="441" x2="164.6" y2="441" stroke="#333" stroke-width="0.8"/>
<line x1="164.6" y1="396.3" x2="164.6" y2="443" stroke="#333" stroke-width="0.8"/>
<line x1="164.6" y1="396.3" x2="167.5" y2="396.3" stroke="#333" stroke-width="0.8"/>
<line x1="166.3" y1="271.7" x2="167.5" y2="271.7" stroke="#333" stroke-width="0.8"/>
<line x1="166.3" y1="338" x2="167.5" y2="338" stroke="#333" stroke-width="0.8"/>
<rect x="167.2" y="177" width="1.3" height="51" fill="#111"/>
<rect x="167.2" y="235" width="1.3" height="37" fill="#111"/>
<rect x="167.2" y="272" width="1.3" height="48" fill="#777"/>
<rect x="167.2" y="321" width="1.3" height="48" fill="#222"/>
<rect x="167.2" y="375" width="1.3" height="20" fill="#333"/>
<rect x="167.2" y="400" width="1.3" height="41" fill="#222"/>
<line x1="344.4" y1="230.7" x2="344.4" y2="383" stroke="#333" stroke-width="0.8"/>
<line x1="344.4" y1="230.7" x2="352.1" y2="230.7" stroke="#333" stroke-width="0.8"/>
<line x1="352.1" y1="192.2" x2="352.1" y2="267.5" stroke="#333" stroke-width="0.8"/>
<line x1="352.1" y1="192.2" x2="354.4" y2="192.2" stroke="#333" stroke-width="0.8"/>
<line x1="352.1" y1="267.5" x2="354.4" y2="267.5" stroke="#333" stroke-width="0.8"/>
<line x1="344.4" y1="383" x2="350.9" y2="383" stroke="#333" stroke-width="0.8"/>
<line x1="350.9" y1="326.1" x2="350.9" y2="439.6" stroke="#333" stroke-width="0.8"/>
<line x1="350.9" y1="326.1" x2="353.5" y2="326.1" stroke="#333" stroke-width="0.8"/>
<line x1="350.9" y1="439.6" x2="353.5" y2="439.6" stroke="#333" stroke-width="0.8"/>
<rect x="353.8" y="176" width="1.2" height="54" fill="#333"/>
<rect x="353.8" y="232" width="1.2" height="33" fill="#444"/>
<rect x="353.8" y="268" width="1.2" height="56" fill="#333"/>
<rect x="353.8" y="328" width="1.2" height="52" fill="#444"/>
<rect x="353.8" y="385" width="1.2" height="55" fill="#333"/>
<defs><linearGradient id="cb" x1="0" x2="1" y1="0" y2="0"><stop offset="0.0" stop-color="#053061"/><stop offset="0.1" stop-color="#2166ac"/><stop offset="0.2" stop-color="#4393c3"/><stop offset="0.3" stop-color="#92c5de"/><stop offset="0.4" stop-color="#d1e5f0"/><stop offset="0.5" stop-color="#f7f7f7"/><stop offset="0.6" stop-color="#fddbc7"/><stop offset="0.7" stop-color="#f4a582"/><stop offset="0.8" stop-color="#d6604d"/><stop offset="0.9" stop-color="#b2182b"/><stop offset="1.0" stop-color="#67001f"/></linearGradient></defs>
<rect x="398.2" y="450.5" width="52.9" height="8" fill="url(#cb)"/>
<text x="394.8" y="457.8" font-size="6.5" fill="#333" text-anchor="end" font-weight="normal" stroke="#333" stroke-width="0.1" >−3</text>
<text x="453.5" y="457.8" font-size="6.5" fill="#333" text-anchor="start" font-weight="normal" stroke="#333" stroke-width="0.1" >3</text>
</svg>
</body></html>
